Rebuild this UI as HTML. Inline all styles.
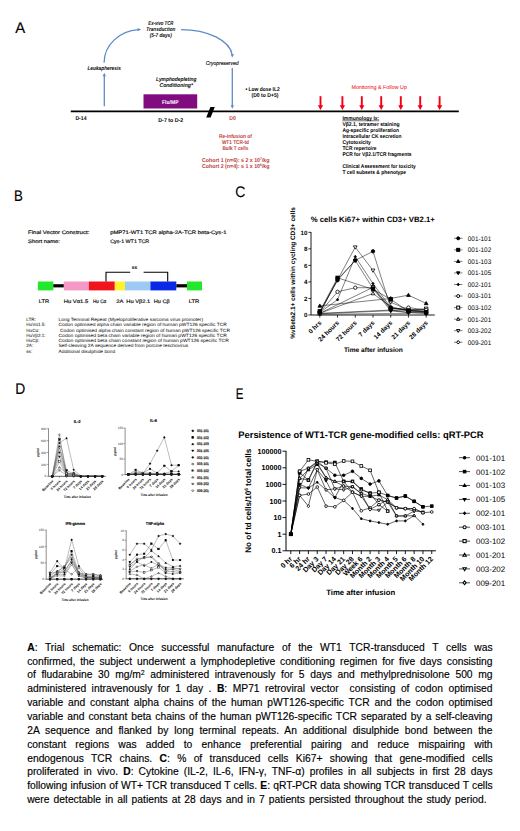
<!DOCTYPE html>
<html><head><meta charset="utf-8">
<style>
html,body{margin:0;padding:0;background:#fff;}
body{width:520px;height:831px;position:relative;overflow:hidden;font-family:"Liberation Sans", sans-serif;}
svg{position:absolute;left:0;top:0;}
svg text{font-family:"Liberation Sans", sans-serif;text-rendering:geometricPrecision;}
.cl{position:absolute;left:27.2px;transform:scaleY(1.09);transform-origin:0 10.5px;font-size:10.3px;line-height:13.85px;height:13.85px;text-align:justify;text-align-last:justify;color:#000;white-space:normal;-webkit-text-stroke:0.15px #000;}
.cl sup{font-size:0.62em;line-height:0;vertical-align:0.45em;}
.cl b{font-weight:bold;}
</style></head><body>
<svg width="520" height="831" viewBox="0 0 520 831">
<text x="0" y="0" font-size="15.4" stroke="#000" stroke-width="0.15" transform="translate(14.1,201.0) scale(0.86,1)">B</text>
<text x="28.0" y="234.3" font-size="5.0" fill="#111" textLength="61.4" lengthAdjust="spacingAndGlyphs" stroke="#111" stroke-width="0.18">Final Vector Construct:</text>
<text x="28.0" y="243.2" font-size="5.0" fill="#111" textLength="32" lengthAdjust="spacingAndGlyphs" stroke="#111" stroke-width="0.18">Short name:</text>
<text x="110.2" y="234.3" font-size="5.0" fill="#111" textLength="116.3" lengthAdjust="spacingAndGlyphs" stroke="#111" stroke-width="0.18">pMP71-WT1 TCR alpha-2A-TCR beta-Cys-1</text>
<text x="110.2" y="243.2" font-size="5.0" fill="#111" textLength="39" lengthAdjust="spacingAndGlyphs" stroke="#111" stroke-width="0.18">Cys-1 WT1 TCR</text>
<rect x="37.9" y="281.5" width="15.4" height="8.899999999999977" fill="#22E82C"/>
<rect x="53.3" y="284.2" width="10.6" height="3.2" fill="#000"/>
<rect x="63.8" y="281.5" width="25" height="8.899999999999977" fill="#F59AC6"/>
<rect x="88.8" y="281.5" width="26" height="8.899999999999977" fill="#F0141E"/>
<rect x="114.8" y="281.5" width="10.2" height="8.899999999999977" fill="#FFF22A"/>
<rect x="125" y="281.5" width="25.4" height="8.899999999999977" fill="#9CCAF4"/>
<rect x="150.4" y="281.5" width="25.9" height="8.899999999999977" fill="#0A28E6"/>
<rect x="176.3" y="284.2" width="10.7" height="3.2" fill="#000"/>
<rect x="187" y="281.5" width="15" height="8.899999999999977" fill="#22E82C"/>
<polyline points="106,281.5 106,272.2 130.2,272.2" fill="none" stroke="#000" stroke-width="1.1"/>
<polyline points="143.6,272.2 167.7,272.2 167.7,281.5" fill="none" stroke="#000" stroke-width="1.1"/>
<text x="134.6" y="268.6" font-size="5.0" font-weight="bold" text-anchor="middle" textLength="5.6" lengthAdjust="spacingAndGlyphs">ss</text>
<text x="44" y="302.6" font-size="5.0" text-anchor="middle" fill="#111" textLength="10.4" lengthAdjust="spacingAndGlyphs" stroke="#111" stroke-width="0.18">LTR</text>
<text x="76" y="302.6" font-size="5.0" text-anchor="middle" fill="#111" textLength="24.5" lengthAdjust="spacingAndGlyphs" stroke="#111" stroke-width="0.18">Hu Vα1.5</text>
<text x="99.6" y="302.6" font-size="5.0" text-anchor="middle" fill="#111" textLength="13.2" lengthAdjust="spacingAndGlyphs" stroke="#111" stroke-width="0.18">Hu Cα</text>
<text x="119.8" y="302.6" font-size="5.0" text-anchor="middle" fill="#111" textLength="7.3" lengthAdjust="spacingAndGlyphs" stroke="#111" stroke-width="0.18">2A</text>
<text x="138.3" y="302.6" font-size="5.0" text-anchor="middle" fill="#111" textLength="24" lengthAdjust="spacingAndGlyphs" stroke="#111" stroke-width="0.18">Hu Vβ2.1</text>
<text x="161.7" y="302.6" font-size="5.0" text-anchor="middle" fill="#111" textLength="15.8" lengthAdjust="spacingAndGlyphs" stroke="#111" stroke-width="0.18">Hu Cβ</text>
<text x="194" y="302.6" font-size="5.0" text-anchor="middle" fill="#111" textLength="10.6" lengthAdjust="spacingAndGlyphs" stroke="#111" stroke-width="0.18">LTR</text>
<text x="26.3" y="320.9" font-size="4.6">LTR:</text>
<text x="58.5" y="320.9" font-size="4.6" textLength="144.6" lengthAdjust="spacingAndGlyphs">Long Terminal Repeat (Myeloproliferative sarcoma virus promoter)</text>
<text x="26.3" y="326.2" font-size="4.6">HuVα1.5:</text>
<text x="58.5" y="326.2" font-size="4.6" textLength="168.4" lengthAdjust="spacingAndGlyphs">Codon optimised alpha chain variable region of human pWT126 specific TCR</text>
<text x="26.3" y="331.5" font-size="4.6">HuCα:</text>
<text x="60.0" y="331.5" font-size="4.6" textLength="170.0" lengthAdjust="spacingAndGlyphs">Codon optimised alpha chain constant region of human pWT126 specific TCR</text>
<text x="26.3" y="336.79999999999995" font-size="4.6">HuVβ2.1:</text>
<text x="58.5" y="336.79999999999995" font-size="4.6" textLength="168.4" lengthAdjust="spacingAndGlyphs">Codon optimised beta chain variable region of human pWT126 specific TCR</text>
<text x="26.3" y="342.09999999999997" font-size="4.6">HuCβ:</text>
<text x="58.5" y="342.09999999999997" font-size="4.6" textLength="170.3" lengthAdjust="spacingAndGlyphs">Codon optimised beta chain constant region of human pWT126 specific TCR</text>
<text x="26.3" y="347.4" font-size="4.6">2A:</text>
<text x="58.5" y="347.4" font-size="4.6" textLength="129.6" lengthAdjust="spacingAndGlyphs">Self-cleaving 2A sequence derived from porcine teschovirus</text>
<text x="26.3" y="352.7" font-size="4.6">ss:</text>
<text x="58.5" y="352.7" font-size="4.6" textLength="56.7" lengthAdjust="spacingAndGlyphs">Additional disulphide bond</text>
<text x="0" y="0" font-size="15.4" stroke="#000" stroke-width="0.15" transform="translate(235.35,197.0) scale(0.9,1)">C</text>
<text x="310.7" y="222.4" font-size="7.75" font-weight="bold" textLength="124.2" lengthAdjust="spacingAndGlyphs">% cells Ki67+ within CD3+ VB2.1+</text>
<text x="0" y="0" font-size="6.5" font-weight="bold" text-anchor="middle" transform="translate(294.6,273) rotate(-90)" textLength="131.7" lengthAdjust="spacingAndGlyphs">%vBeta2.1+ cells within cycling CD3+ cells</text>
<polyline points="319.80,313.76 426.18,309.21" fill="none" stroke="#000" stroke-width="0.45"/>
<polyline points="319.80,314.17 408.45,313.35" fill="none" stroke="#000" stroke-width="0.45"/>
<polyline points="319.80,313.35 390.72,310.04 408.45,312.52 426.18,313.35" fill="none" stroke="#000" stroke-width="0.5"/>
<polygon points="319.80,311.31 321.50,313.35 319.80,315.39 318.10,313.35" fill="#fff" stroke="#000" stroke-width="0.8"/>
<polygon points="390.72,308.00 392.42,310.04 390.72,312.08 389.02,310.04" fill="#fff" stroke="#000" stroke-width="0.8"/>
<polygon points="408.45,310.48 410.15,312.52 408.45,314.56 406.75,312.52" fill="#fff" stroke="#000" stroke-width="0.8"/>
<polygon points="426.18,311.31 427.88,313.35 426.18,315.39 424.48,313.35" fill="#fff" stroke="#000" stroke-width="0.8"/>
<polyline points="319.80,312.52 355.26,247.19 372.99,270.34 390.72,302.18 408.45,310.04 426.18,310.87" fill="none" stroke="#000" stroke-width="0.5"/>
<polygon points="319.80,314.47 321.67,311.24 317.93,311.24" fill="#fff" stroke="#000" stroke-width="0.8"/>
<polygon points="355.26,249.14 357.13,245.91 353.39,245.91" fill="#fff" stroke="#000" stroke-width="0.8"/>
<polygon points="372.99,272.30 374.86,269.07 371.12,269.07" fill="#fff" stroke="#000" stroke-width="0.8"/>
<polygon points="390.72,304.14 392.59,300.91 388.85,300.91" fill="#fff" stroke="#000" stroke-width="0.8"/>
<polygon points="408.45,311.99 410.32,308.76 406.58,308.76" fill="#fff" stroke="#000" stroke-width="0.8"/>
<polygon points="426.18,312.82 428.05,309.59 424.31,309.59" fill="#fff" stroke="#000" stroke-width="0.8"/>
<polyline points="319.80,313.35 372.99,293.50 390.72,306.73 408.45,310.87 426.18,311.69" fill="none" stroke="#000" stroke-width="0.5"/>
<polygon points="319.80,311.39 321.67,314.62 317.93,314.62" fill="#fff" stroke="#000" stroke-width="0.8"/>
<polygon points="372.99,291.54 374.86,294.77 371.12,294.77" fill="#fff" stroke="#000" stroke-width="0.8"/>
<polygon points="390.72,304.78 392.59,308.00 388.85,308.00" fill="#fff" stroke="#000" stroke-width="0.8"/>
<polygon points="408.45,308.91 410.32,312.14 406.58,312.14" fill="#fff" stroke="#000" stroke-width="0.8"/>
<polygon points="426.18,309.74 428.05,312.97 424.31,312.97" fill="#fff" stroke="#000" stroke-width="0.8"/>
<polyline points="319.80,313.35 372.99,287.30 390.72,308.38 408.45,310.04 426.18,308.80" fill="none" stroke="#000" stroke-width="0.5"/>
<rect x="318.10" y="311.65" width="3.40" height="3.40" fill="#fff" stroke="#000" stroke-width="0.8"/>
<rect x="371.29" y="285.60" width="3.40" height="3.40" fill="#fff" stroke="#000" stroke-width="0.8"/>
<rect x="389.02" y="306.68" width="3.40" height="3.40" fill="#fff" stroke="#000" stroke-width="0.8"/>
<rect x="406.75" y="308.34" width="3.40" height="3.40" fill="#fff" stroke="#000" stroke-width="0.8"/>
<rect x="424.48" y="307.10" width="3.40" height="3.40" fill="#fff" stroke="#000" stroke-width="0.8"/>
<polyline points="319.80,312.52 337.53,291.84 355.26,287.71 372.99,287.71 390.72,309.21 408.45,307.56 426.18,310.04" fill="none" stroke="#000" stroke-width="0.5"/>
<circle cx="319.80" cy="312.52" r="1.70" fill="#fff" stroke="#000" stroke-width="0.8"/>
<circle cx="337.53" cy="291.84" r="1.70" fill="#fff" stroke="#000" stroke-width="0.8"/>
<circle cx="355.26" cy="287.71" r="1.70" fill="#fff" stroke="#000" stroke-width="0.8"/>
<circle cx="372.99" cy="287.71" r="1.70" fill="#fff" stroke="#000" stroke-width="0.8"/>
<circle cx="390.72" cy="309.21" r="1.70" fill="#fff" stroke="#000" stroke-width="0.8"/>
<circle cx="408.45" cy="307.56" r="1.70" fill="#fff" stroke="#000" stroke-width="0.8"/>
<circle cx="426.18" cy="310.04" r="1.70" fill="#fff" stroke="#000" stroke-width="0.8"/>
<polyline points="319.80,312.52 337.53,299.70 355.26,256.70 372.99,283.57 390.72,307.56 408.45,310.04 426.18,311.69" fill="none" stroke="#000" stroke-width="0.5"/>
<polygon points="319.80,311.14 320.95,312.52 319.80,313.90 318.65,312.52" fill="#000" stroke="#000" stroke-width="0.8"/>
<polygon points="337.53,298.32 338.68,299.70 337.53,301.08 336.38,299.70" fill="#000" stroke="#000" stroke-width="0.8"/>
<polygon points="355.26,255.32 356.41,256.70 355.26,258.08 354.11,256.70" fill="#000" stroke="#000" stroke-width="0.8"/>
<polygon points="372.99,282.19 374.14,283.57 372.99,284.95 371.84,283.57" fill="#000" stroke="#000" stroke-width="0.8"/>
<polygon points="390.72,306.18 391.87,307.56 390.72,308.94 389.57,307.56" fill="#000" stroke="#000" stroke-width="0.8"/>
<polygon points="408.45,308.66 409.60,310.04 408.45,311.42 407.30,310.04" fill="#000" stroke="#000" stroke-width="0.8"/>
<polygon points="426.18,310.31 427.33,311.69 426.18,313.07 425.03,311.69" fill="#000" stroke="#000" stroke-width="0.8"/>
<polyline points="319.80,312.52 337.53,279.44 355.26,260.42 372.99,288.54 390.72,310.87 408.45,312.52 426.18,312.93" fill="none" stroke="#000" stroke-width="0.5"/>
<polygon points="319.80,314.47 321.67,311.24 317.93,311.24" fill="#000" stroke="#000" stroke-width="0.8"/>
<polygon points="337.53,281.39 339.40,278.16 335.66,278.16" fill="#000" stroke="#000" stroke-width="0.8"/>
<polygon points="355.26,262.37 357.13,259.14 353.39,259.14" fill="#000" stroke="#000" stroke-width="0.8"/>
<polygon points="372.99,290.49 374.86,287.26 371.12,287.26" fill="#000" stroke="#000" stroke-width="0.8"/>
<polygon points="390.72,312.82 392.59,309.59 388.85,309.59" fill="#000" stroke="#000" stroke-width="0.8"/>
<polygon points="408.45,314.47 410.32,311.24 406.58,311.24" fill="#000" stroke="#000" stroke-width="0.8"/>
<polygon points="426.18,314.89 428.05,311.66 424.31,311.66" fill="#000" stroke="#000" stroke-width="0.8"/>
<polyline points="319.80,305.90 390.72,298.46 408.45,295.15 426.18,303.42" fill="none" stroke="#000" stroke-width="0.5"/>
<polygon points="319.80,303.95 321.67,307.18 317.93,307.18" fill="#000" stroke="#000" stroke-width="0.8"/>
<polygon points="390.72,296.50 392.59,299.73 388.85,299.73" fill="#000" stroke="#000" stroke-width="0.8"/>
<polygon points="408.45,293.20 410.32,296.43 406.58,296.43" fill="#000" stroke="#000" stroke-width="0.8"/>
<polygon points="426.18,301.47 428.05,304.70 424.31,304.70" fill="#000" stroke="#000" stroke-width="0.8"/>
<polyline points="319.80,311.28 337.53,277.79 372.99,289.36 390.72,299.29 408.45,311.28 426.18,312.52" fill="none" stroke="#000" stroke-width="0.5"/>
<rect x="318.10" y="309.58" width="3.40" height="3.40" fill="#000" stroke="#000" stroke-width="0.8"/>
<rect x="335.83" y="276.09" width="3.40" height="3.40" fill="#000" stroke="#000" stroke-width="0.8"/>
<rect x="371.29" y="287.66" width="3.40" height="3.40" fill="#000" stroke="#000" stroke-width="0.8"/>
<rect x="389.02" y="297.59" width="3.40" height="3.40" fill="#000" stroke="#000" stroke-width="0.8"/>
<rect x="406.75" y="309.58" width="3.40" height="3.40" fill="#000" stroke="#000" stroke-width="0.8"/>
<rect x="424.48" y="310.82" width="3.40" height="3.40" fill="#000" stroke="#000" stroke-width="0.8"/>
<polyline points="319.80,312.52 337.53,280.27 355.26,260.42 372.99,251.32 390.72,307.97 408.45,310.45 426.18,312.11" fill="none" stroke="#000" stroke-width="0.5"/>
<circle cx="319.80" cy="312.52" r="1.70" fill="#000" stroke="#000" stroke-width="0.8"/>
<circle cx="337.53" cy="280.27" r="1.70" fill="#000" stroke="#000" stroke-width="0.8"/>
<circle cx="355.26" cy="260.42" r="1.70" fill="#000" stroke="#000" stroke-width="0.8"/>
<circle cx="372.99" cy="251.32" r="1.70" fill="#000" stroke="#000" stroke-width="0.8"/>
<circle cx="390.72" cy="307.97" r="1.70" fill="#000" stroke="#000" stroke-width="0.8"/>
<circle cx="408.45" cy="310.45" r="1.70" fill="#000" stroke="#000" stroke-width="0.8"/>
<circle cx="426.18" cy="312.11" r="1.70" fill="#000" stroke="#000" stroke-width="0.8"/>
<line x1="311.0" y1="232.0" x2="311.0" y2="315.0" stroke="#000" stroke-width="0.9"/>
<line x1="311.0" y1="315.0" x2="434.8" y2="315.0" stroke="#000" stroke-width="0.9"/>
<line x1="308.4" y1="315.00" x2="311.0" y2="315.00" stroke="#000" stroke-width="0.8"/>
<text x="307.4" y="317.2" font-size="6.2" font-weight="bold" text-anchor="end">0</text>
<line x1="308.4" y1="298.46" x2="311.0" y2="298.46" stroke="#000" stroke-width="0.8"/>
<text x="307.4" y="300.65999999999997" font-size="6.2" font-weight="bold" text-anchor="end">2</text>
<line x1="308.4" y1="281.92" x2="311.0" y2="281.92" stroke="#000" stroke-width="0.8"/>
<text x="307.4" y="284.12" font-size="6.2" font-weight="bold" text-anchor="end">4</text>
<line x1="308.4" y1="265.38" x2="311.0" y2="265.38" stroke="#000" stroke-width="0.8"/>
<text x="307.4" y="267.58" font-size="6.2" font-weight="bold" text-anchor="end">6</text>
<line x1="308.4" y1="248.84" x2="311.0" y2="248.84" stroke="#000" stroke-width="0.8"/>
<text x="307.4" y="251.04" font-size="6.2" font-weight="bold" text-anchor="end">8</text>
<line x1="308.4" y1="232.30" x2="311.0" y2="232.30" stroke="#000" stroke-width="0.8"/>
<text x="307.4" y="234.5" font-size="6.2" font-weight="bold" text-anchor="end">10</text>
<line x1="319.80" y1="315.0" x2="319.80" y2="317.6" stroke="#000" stroke-width="0.8"/>
<line x1="337.53" y1="315.0" x2="337.53" y2="317.6" stroke="#000" stroke-width="0.8"/>
<line x1="355.26" y1="315.0" x2="355.26" y2="317.6" stroke="#000" stroke-width="0.8"/>
<line x1="372.99" y1="315.0" x2="372.99" y2="317.6" stroke="#000" stroke-width="0.8"/>
<line x1="390.72" y1="315.0" x2="390.72" y2="317.6" stroke="#000" stroke-width="0.8"/>
<line x1="408.45" y1="315.0" x2="408.45" y2="317.6" stroke="#000" stroke-width="0.8"/>
<line x1="426.18" y1="315.0" x2="426.18" y2="317.6" stroke="#000" stroke-width="0.8"/>
<text x="0" y="0" font-size="6.4" font-weight="bold" text-anchor="end" fill="#000" transform="translate(321.90,323.20) rotate(-45)">0 hrs</text>
<text x="0" y="0" font-size="6.4" font-weight="bold" text-anchor="end" fill="#000" transform="translate(339.63,323.20) rotate(-45)">24 hours</text>
<text x="0" y="0" font-size="6.4" font-weight="bold" text-anchor="end" fill="#000" transform="translate(357.36,323.20) rotate(-45)">72 hours</text>
<text x="0" y="0" font-size="6.4" font-weight="bold" text-anchor="end" fill="#000" transform="translate(375.09,323.20) rotate(-45)">7 days</text>
<text x="0" y="0" font-size="6.4" font-weight="bold" text-anchor="end" fill="#000" transform="translate(392.82,323.20) rotate(-45)">14 days</text>
<text x="0" y="0" font-size="6.4" font-weight="bold" text-anchor="end" fill="#000" transform="translate(410.55,323.20) rotate(-45)">21 days</text>
<text x="0" y="0" font-size="6.4" font-weight="bold" text-anchor="end" fill="#000" transform="translate(428.28,323.20) rotate(-45)">28 days</text>
<text x="343.9" y="352.0" font-size="6.6" font-weight="bold" textLength="59" lengthAdjust="spacingAndGlyphs">Time after infusion</text>
<line x1="454" y1="238.30" x2="462.5" y2="238.30" stroke="#000" stroke-width="0.5"/>
<circle cx="458.20" cy="238.30" r="1.50" fill="#000" stroke="#000" stroke-width="1.0"/>
<text x="467.8" y="240.70000000000002" font-size="6.7" textLength="23.4" lengthAdjust="spacingAndGlyphs">001-101</text>
<line x1="454" y1="249.85" x2="462.5" y2="249.85" stroke="#000" stroke-width="0.5"/>
<rect x="456.70" y="248.35" width="3.00" height="3.00" fill="#000" stroke="#000" stroke-width="1.0"/>
<text x="467.8" y="252.25000000000003" font-size="6.7" textLength="23.4" lengthAdjust="spacingAndGlyphs">001-102</text>
<line x1="454" y1="261.40" x2="462.5" y2="261.40" stroke="#000" stroke-width="0.5"/>
<polygon points="458.20,259.68 459.85,262.53 456.55,262.53" fill="#000" stroke="#000" stroke-width="1.0"/>
<text x="467.8" y="263.8" font-size="6.7" textLength="23.4" lengthAdjust="spacingAndGlyphs">001-103</text>
<line x1="454" y1="272.95" x2="462.5" y2="272.95" stroke="#000" stroke-width="0.5"/>
<polygon points="458.20,274.68 459.85,271.83 456.55,271.83" fill="#000" stroke="#000" stroke-width="1.0"/>
<text x="467.8" y="275.35" font-size="6.7" textLength="23.4" lengthAdjust="spacingAndGlyphs">001-105</text>
<line x1="454" y1="284.50" x2="462.5" y2="284.50" stroke="#000" stroke-width="0.5"/>
<polygon points="458.20,283.18 459.30,284.50 458.20,285.82 457.10,284.50" fill="#000" stroke="#000" stroke-width="1.0"/>
<text x="467.8" y="286.9" font-size="6.7" textLength="23.4" lengthAdjust="spacingAndGlyphs">002-101</text>
<line x1="454" y1="296.05" x2="462.5" y2="296.05" stroke="#000" stroke-width="0.5"/>
<circle cx="458.20" cy="296.05" r="1.50" fill="#fff" stroke="#000" stroke-width="1.0"/>
<text x="467.8" y="298.45" font-size="6.7" textLength="23.4" lengthAdjust="spacingAndGlyphs">003-101</text>
<line x1="454" y1="307.60" x2="462.5" y2="307.60" stroke="#000" stroke-width="0.5"/>
<rect x="456.70" y="306.10" width="3.00" height="3.00" fill="#fff" stroke="#000" stroke-width="1.0"/>
<text x="467.8" y="310.0" font-size="6.7" textLength="23.4" lengthAdjust="spacingAndGlyphs">003-102</text>
<line x1="454" y1="319.15" x2="462.5" y2="319.15" stroke="#000" stroke-width="0.5"/>
<polygon points="458.20,317.43 459.85,320.28 456.55,320.28" fill="#fff" stroke="#000" stroke-width="1.0"/>
<text x="467.8" y="321.55" font-size="6.7" textLength="23.4" lengthAdjust="spacingAndGlyphs">001-201</text>
<line x1="454" y1="330.70" x2="462.5" y2="330.70" stroke="#000" stroke-width="0.5"/>
<polygon points="458.20,332.43 459.85,329.58 456.55,329.58" fill="#fff" stroke="#000" stroke-width="1.0"/>
<text x="467.8" y="333.1" font-size="6.7" textLength="23.4" lengthAdjust="spacingAndGlyphs">003-202</text>
<line x1="454" y1="342.25" x2="462.5" y2="342.25" stroke="#000" stroke-width="0.5"/>
<polygon points="458.20,340.45 459.70,342.25 458.20,344.05 456.70,342.25" fill="#fff" stroke="#000" stroke-width="1.0"/>
<text x="467.8" y="344.65" font-size="6.7" textLength="23.4" lengthAdjust="spacingAndGlyphs">009-201</text>
<text x="0" y="0" font-size="15.4" stroke="#000" stroke-width="0.15" transform="translate(15.3,394.0) scale(0.9,1)">D</text>
<text x="77.2" y="423.0" font-size="4.3" font-weight="bold" text-anchor="middle" textLength="6.8" lengthAdjust="spacingAndGlyphs" stroke="#000" stroke-width="0.12">IL-2</text>
<polyline points="52.30,476.30 59.43,446.55 66.56,472.73 73.69,475.11 80.82,476.30 87.95,476.30 95.08,476.30 102.21,476.30" fill="none" stroke="#555" stroke-width="0.4"/>
<circle cx="52.30" cy="476.30" r="0.80" fill="#000" stroke="#000" stroke-width="0.45"/>
<circle cx="59.43" cy="446.55" r="0.80" fill="#000" stroke="#000" stroke-width="0.45"/>
<circle cx="66.56" cy="472.73" r="0.80" fill="#000" stroke="#000" stroke-width="0.45"/>
<circle cx="73.69" cy="475.11" r="0.80" fill="#000" stroke="#000" stroke-width="0.45"/>
<circle cx="80.82" cy="476.30" r="0.80" fill="#000" stroke="#000" stroke-width="0.45"/>
<circle cx="87.95" cy="476.30" r="0.80" fill="#000" stroke="#000" stroke-width="0.45"/>
<circle cx="95.08" cy="476.30" r="0.80" fill="#000" stroke="#000" stroke-width="0.45"/>
<circle cx="102.21" cy="476.30" r="0.80" fill="#000" stroke="#000" stroke-width="0.45"/>
<polyline points="52.30,476.30 59.43,439.41 66.56,470.35 73.69,473.92 80.82,476.30 87.95,476.30 95.08,476.30 102.21,476.30" fill="none" stroke="#555" stroke-width="0.4"/>
<rect x="51.50" y="475.50" width="1.60" height="1.60" fill="#000" stroke="#000" stroke-width="0.45"/>
<rect x="58.63" y="438.61" width="1.60" height="1.60" fill="#000" stroke="#000" stroke-width="0.45"/>
<rect x="65.76" y="469.55" width="1.60" height="1.60" fill="#000" stroke="#000" stroke-width="0.45"/>
<rect x="72.89" y="473.12" width="1.60" height="1.60" fill="#000" stroke="#000" stroke-width="0.45"/>
<rect x="80.02" y="475.50" width="1.60" height="1.60" fill="#000" stroke="#000" stroke-width="0.45"/>
<rect x="87.15" y="475.50" width="1.60" height="1.60" fill="#000" stroke="#000" stroke-width="0.45"/>
<rect x="94.28" y="475.50" width="1.60" height="1.60" fill="#000" stroke="#000" stroke-width="0.45"/>
<rect x="101.41" y="475.50" width="1.60" height="1.60" fill="#000" stroke="#000" stroke-width="0.45"/>
<polyline points="52.30,476.30 59.43,452.50 66.56,474.51 73.69,472.73 80.82,476.30 87.95,476.30 95.08,476.30 102.21,476.30" fill="none" stroke="#555" stroke-width="0.4"/>
<polygon points="52.30,475.38 53.18,476.90 51.42,476.90" fill="#000" stroke="#000" stroke-width="0.45"/>
<polygon points="59.43,451.58 60.31,453.10 58.55,453.10" fill="#000" stroke="#000" stroke-width="0.45"/>
<polygon points="66.56,473.59 67.44,475.12 65.68,475.12" fill="#000" stroke="#000" stroke-width="0.45"/>
<polygon points="73.69,471.81 74.57,473.33 72.81,473.33" fill="#000" stroke="#000" stroke-width="0.45"/>
<polygon points="80.82,475.38 81.70,476.90 79.94,476.90" fill="#000" stroke="#000" stroke-width="0.45"/>
<polygon points="87.95,475.38 88.83,476.90 87.07,476.90" fill="#000" stroke="#000" stroke-width="0.45"/>
<polygon points="95.08,475.38 95.96,476.90 94.20,476.90" fill="#000" stroke="#000" stroke-width="0.45"/>
<polygon points="102.21,475.38 103.09,476.90 101.33,476.90" fill="#000" stroke="#000" stroke-width="0.45"/>
<polyline points="52.30,476.30 59.43,456.67 66.56,475.11 73.69,475.11 80.82,476.30 87.95,476.30 95.08,476.30 102.21,476.30" fill="none" stroke="#555" stroke-width="0.4"/>
<polygon points="52.30,477.22 53.18,475.70 51.42,475.70" fill="#000" stroke="#000" stroke-width="0.45"/>
<polygon points="59.43,457.59 60.31,456.06 58.55,456.06" fill="#000" stroke="#000" stroke-width="0.45"/>
<polygon points="66.56,476.03 67.44,474.51 65.68,474.51" fill="#000" stroke="#000" stroke-width="0.45"/>
<polygon points="73.69,476.03 74.57,474.51 72.81,474.51" fill="#000" stroke="#000" stroke-width="0.45"/>
<polygon points="80.82,477.22 81.70,475.70 79.94,475.70" fill="#000" stroke="#000" stroke-width="0.45"/>
<polygon points="87.95,477.22 88.83,475.70 87.07,475.70" fill="#000" stroke="#000" stroke-width="0.45"/>
<polygon points="95.08,477.22 95.96,475.70 94.20,475.70" fill="#000" stroke="#000" stroke-width="0.45"/>
<polygon points="102.21,477.22 103.09,475.70 101.33,475.70" fill="#000" stroke="#000" stroke-width="0.45"/>
<polyline points="52.30,476.30 59.43,442.98 66.56,438.22 73.69,469.75 80.82,476.00 87.95,476.30 95.08,476.30 102.21,476.30" fill="none" stroke="#555" stroke-width="0.4"/>
<polygon points="52.30,475.34 53.10,476.30 52.30,477.26 51.50,476.30" fill="#000" stroke="#000" stroke-width="0.45"/>
<polygon points="59.43,442.02 60.23,442.98 59.43,443.94 58.63,442.98" fill="#000" stroke="#000" stroke-width="0.45"/>
<polygon points="66.56,437.26 67.36,438.22 66.56,439.18 65.76,438.22" fill="#000" stroke="#000" stroke-width="0.45"/>
<polygon points="73.69,468.80 74.49,469.75 73.69,470.71 72.89,469.75" fill="#000" stroke="#000" stroke-width="0.45"/>
<polygon points="80.82,475.04 81.62,476.00 80.82,476.96 80.02,476.00" fill="#000" stroke="#000" stroke-width="0.45"/>
<polygon points="87.95,475.34 88.75,476.30 87.95,477.26 87.15,476.30" fill="#000" stroke="#000" stroke-width="0.45"/>
<polygon points="95.08,475.34 95.88,476.30 95.08,477.26 94.28,476.30" fill="#000" stroke="#000" stroke-width="0.45"/>
<polygon points="102.21,475.34 103.01,476.30 102.21,477.26 101.41,476.30" fill="#000" stroke="#000" stroke-width="0.45"/>
<polyline points="52.30,476.30 59.43,434.65 66.56,475.70 73.69,475.70 80.82,476.30 87.95,476.30 95.08,476.30 102.21,476.30" fill="none" stroke="#555" stroke-width="0.4"/>
<circle cx="52.30" cy="476.30" r="0.80" fill="#fff" stroke="#000" stroke-width="0.45"/>
<circle cx="59.43" cy="434.65" r="0.80" fill="#fff" stroke="#000" stroke-width="0.45"/>
<circle cx="66.56" cy="475.70" r="0.80" fill="#fff" stroke="#000" stroke-width="0.45"/>
<circle cx="73.69" cy="475.70" r="0.80" fill="#fff" stroke="#000" stroke-width="0.45"/>
<circle cx="80.82" cy="476.30" r="0.80" fill="#fff" stroke="#000" stroke-width="0.45"/>
<circle cx="87.95" cy="476.30" r="0.80" fill="#fff" stroke="#000" stroke-width="0.45"/>
<circle cx="95.08" cy="476.30" r="0.80" fill="#fff" stroke="#000" stroke-width="0.45"/>
<circle cx="102.21" cy="476.30" r="0.80" fill="#fff" stroke="#000" stroke-width="0.45"/>
<polyline points="52.30,476.30 59.43,461.43 66.56,476.00 73.69,476.00 80.82,476.30 87.95,476.30 95.08,476.30 102.21,476.30" fill="none" stroke="#555" stroke-width="0.4"/>
<rect x="51.50" y="475.50" width="1.60" height="1.60" fill="#fff" stroke="#000" stroke-width="0.45"/>
<rect x="58.63" y="460.62" width="1.60" height="1.60" fill="#fff" stroke="#000" stroke-width="0.45"/>
<rect x="65.76" y="475.20" width="1.60" height="1.60" fill="#fff" stroke="#000" stroke-width="0.45"/>
<rect x="72.89" y="475.20" width="1.60" height="1.60" fill="#fff" stroke="#000" stroke-width="0.45"/>
<rect x="80.02" y="475.50" width="1.60" height="1.60" fill="#fff" stroke="#000" stroke-width="0.45"/>
<rect x="87.15" y="475.50" width="1.60" height="1.60" fill="#fff" stroke="#000" stroke-width="0.45"/>
<rect x="94.28" y="475.50" width="1.60" height="1.60" fill="#fff" stroke="#000" stroke-width="0.45"/>
<rect x="101.41" y="475.50" width="1.60" height="1.60" fill="#fff" stroke="#000" stroke-width="0.45"/>
<polyline points="52.30,476.30 59.43,467.38 66.56,472.73 73.69,474.51 80.82,476.30 87.95,476.30 95.08,476.30 102.21,476.30" fill="none" stroke="#555" stroke-width="0.4"/>
<polygon points="52.30,475.38 53.18,476.90 51.42,476.90" fill="#fff" stroke="#000" stroke-width="0.45"/>
<polygon points="59.43,466.45 60.31,467.98 58.55,467.98" fill="#fff" stroke="#000" stroke-width="0.45"/>
<polygon points="66.56,471.81 67.44,473.33 65.68,473.33" fill="#fff" stroke="#000" stroke-width="0.45"/>
<polygon points="73.69,473.59 74.57,475.12 72.81,475.12" fill="#fff" stroke="#000" stroke-width="0.45"/>
<polygon points="80.82,475.38 81.70,476.90 79.94,476.90" fill="#fff" stroke="#000" stroke-width="0.45"/>
<polygon points="87.95,475.38 88.83,476.90 87.07,476.90" fill="#fff" stroke="#000" stroke-width="0.45"/>
<polygon points="95.08,475.38 95.96,476.90 94.20,476.90" fill="#fff" stroke="#000" stroke-width="0.45"/>
<polygon points="102.21,475.38 103.09,476.90 101.33,476.90" fill="#fff" stroke="#000" stroke-width="0.45"/>
<polyline points="52.30,476.30 59.43,470.35 66.56,475.11 73.69,473.32 80.82,476.30 87.95,476.30 95.08,476.30 102.21,476.30" fill="none" stroke="#555" stroke-width="0.4"/>
<polygon points="52.30,477.22 53.18,475.70 51.42,475.70" fill="#fff" stroke="#000" stroke-width="0.45"/>
<polygon points="59.43,471.27 60.31,469.75 58.55,469.75" fill="#fff" stroke="#000" stroke-width="0.45"/>
<polygon points="66.56,476.03 67.44,474.51 65.68,474.51" fill="#fff" stroke="#000" stroke-width="0.45"/>
<polygon points="73.69,474.25 74.57,472.72 72.81,472.72" fill="#fff" stroke="#000" stroke-width="0.45"/>
<polygon points="80.82,477.22 81.70,475.70 79.94,475.70" fill="#fff" stroke="#000" stroke-width="0.45"/>
<polygon points="87.95,477.22 88.83,475.70 87.07,475.70" fill="#fff" stroke="#000" stroke-width="0.45"/>
<polygon points="95.08,477.22 95.96,475.70 94.20,475.70" fill="#fff" stroke="#000" stroke-width="0.45"/>
<polygon points="102.21,477.22 103.09,475.70 101.33,475.70" fill="#fff" stroke="#000" stroke-width="0.45"/>
<polyline points="52.30,476.30 59.43,447.74 66.56,473.32 73.69,475.70 80.82,476.30 87.95,476.30 95.08,476.30 102.21,476.30" fill="none" stroke="#555" stroke-width="0.4"/>
<polygon points="52.30,475.34 53.10,476.30 52.30,477.26 51.50,476.30" fill="#fff" stroke="#000" stroke-width="0.45"/>
<polygon points="59.43,446.78 60.23,447.74 59.43,448.70 58.63,447.74" fill="#fff" stroke="#000" stroke-width="0.45"/>
<polygon points="66.56,472.37 67.36,473.32 66.56,474.28 65.76,473.32" fill="#fff" stroke="#000" stroke-width="0.45"/>
<polygon points="73.69,474.75 74.49,475.70 73.69,476.66 72.89,475.70" fill="#fff" stroke="#000" stroke-width="0.45"/>
<polygon points="80.82,475.34 81.62,476.30 80.82,477.26 80.02,476.30" fill="#fff" stroke="#000" stroke-width="0.45"/>
<polygon points="87.95,475.34 88.75,476.30 87.95,477.26 87.15,476.30" fill="#fff" stroke="#000" stroke-width="0.45"/>
<polygon points="95.08,475.34 95.88,476.30 95.08,477.26 94.28,476.30" fill="#fff" stroke="#000" stroke-width="0.45"/>
<polygon points="102.21,475.34 103.01,476.30 102.21,477.26 101.41,476.30" fill="#fff" stroke="#000" stroke-width="0.45"/>
<circle cx="52.30" cy="476.30" r="1.15" fill="#000"/>
<circle cx="80.82" cy="476.30" r="1.15" fill="#000"/>
<circle cx="87.95" cy="476.30" r="1.15" fill="#000"/>
<circle cx="95.08" cy="476.30" r="1.15" fill="#000"/>
<circle cx="102.21" cy="476.30" r="1.15" fill="#000"/>
<line x1="48.5" y1="428.4" x2="48.5" y2="476.3" stroke="#444" stroke-width="0.6"/>
<line x1="48.5" y1="476.3" x2="105.8" y2="476.3" stroke="#222" stroke-width="0.7"/>
<line x1="47.0" y1="476.30" x2="48.5" y2="476.30" stroke="#444" stroke-width="0.5"/>
<text x="46.4" y="477.40000000000003" font-size="3.2" text-anchor="end" fill="#333">0</text>
<line x1="47.0" y1="464.40" x2="48.5" y2="464.40" stroke="#444" stroke-width="0.5"/>
<text x="46.4" y="465.5" font-size="3.2" text-anchor="end" fill="#333">200</text>
<line x1="47.0" y1="452.50" x2="48.5" y2="452.50" stroke="#444" stroke-width="0.5"/>
<text x="46.4" y="453.6" font-size="3.2" text-anchor="end" fill="#333">400</text>
<line x1="47.0" y1="440.60" x2="48.5" y2="440.60" stroke="#444" stroke-width="0.5"/>
<text x="46.4" y="441.70000000000005" font-size="3.2" text-anchor="end" fill="#333">600</text>
<line x1="47.0" y1="428.70" x2="48.5" y2="428.70" stroke="#444" stroke-width="0.5"/>
<text x="46.4" y="429.8" font-size="3.2" text-anchor="end" fill="#333">800</text>
<line x1="52.30" y1="476.3" x2="52.30" y2="477.8" stroke="#333" stroke-width="0.5"/>
<line x1="59.43" y1="476.3" x2="59.43" y2="477.8" stroke="#333" stroke-width="0.5"/>
<line x1="66.56" y1="476.3" x2="66.56" y2="477.8" stroke="#333" stroke-width="0.5"/>
<line x1="73.69" y1="476.3" x2="73.69" y2="477.8" stroke="#333" stroke-width="0.5"/>
<line x1="80.82" y1="476.3" x2="80.82" y2="477.8" stroke="#333" stroke-width="0.5"/>
<line x1="87.95" y1="476.3" x2="87.95" y2="477.8" stroke="#333" stroke-width="0.5"/>
<line x1="95.08" y1="476.3" x2="95.08" y2="477.8" stroke="#333" stroke-width="0.5"/>
<line x1="102.21" y1="476.3" x2="102.21" y2="477.8" stroke="#333" stroke-width="0.5"/>
<text x="0" y="0" font-size="3.5" font-weight="bold" text-anchor="end" fill="#000" transform="translate(53.70,481.30) rotate(-45)">Baseline</text>
<text x="0" y="0" font-size="3.5" font-weight="bold" text-anchor="end" fill="#000" transform="translate(60.83,481.30) rotate(-45)">6 hours</text>
<text x="0" y="0" font-size="3.5" font-weight="bold" text-anchor="end" fill="#000" transform="translate(67.96,481.30) rotate(-45)">24 hours</text>
<text x="0" y="0" font-size="3.5" font-weight="bold" text-anchor="end" fill="#000" transform="translate(75.09,481.30) rotate(-45)">72 hours</text>
<text x="0" y="0" font-size="3.5" font-weight="bold" text-anchor="end" fill="#000" transform="translate(82.22,481.30) rotate(-45)">7 days</text>
<text x="0" y="0" font-size="3.5" font-weight="bold" text-anchor="end" fill="#000" transform="translate(89.35,481.30) rotate(-45)">14 days</text>
<text x="0" y="0" font-size="3.5" font-weight="bold" text-anchor="end" fill="#000" transform="translate(96.48,481.30) rotate(-45)">21 days</text>
<text x="0" y="0" font-size="3.5" font-weight="bold" text-anchor="end" fill="#000" transform="translate(103.61,481.30) rotate(-45)">28 days</text>
<text x="0" y="0" font-size="3.3" font-weight="bold" text-anchor="middle" fill="#111" transform="translate(39.20,452.50) rotate(-90)">pg/ml</text>
<text x="77.3" y="497.5" font-size="3.4" font-weight="bold" text-anchor="middle" textLength="27" lengthAdjust="spacingAndGlyphs">Time after infusion</text>
<text x="153.5" y="422.2" font-size="4.3" font-weight="bold" text-anchor="middle" textLength="6.9" lengthAdjust="spacingAndGlyphs" stroke="#000" stroke-width="0.12">IL-6</text>
<polyline points="128.50,474.50 135.67,474.50 142.84,473.88 150.01,463.67 157.18,450.68 164.35,437.38 171.52,465.22 178.69,465.22" fill="none" stroke="#555" stroke-width="0.4"/>
<circle cx="128.50" cy="474.50" r="0.80" fill="#000" stroke="#000" stroke-width="0.45"/>
<circle cx="135.67" cy="474.50" r="0.80" fill="#000" stroke="#000" stroke-width="0.45"/>
<circle cx="142.84" cy="473.88" r="0.80" fill="#000" stroke="#000" stroke-width="0.45"/>
<circle cx="150.01" cy="463.67" r="0.80" fill="#000" stroke="#000" stroke-width="0.45"/>
<circle cx="157.18" cy="450.68" r="0.80" fill="#000" stroke="#000" stroke-width="0.45"/>
<circle cx="164.35" cy="437.38" r="0.80" fill="#000" stroke="#000" stroke-width="0.45"/>
<circle cx="171.52" cy="465.22" r="0.80" fill="#000" stroke="#000" stroke-width="0.45"/>
<circle cx="178.69" cy="465.22" r="0.80" fill="#000" stroke="#000" stroke-width="0.45"/>
<polyline points="128.50,474.50 135.67,469.86 142.84,472.95 150.01,468.93 157.18,472.95 164.35,465.84 171.52,471.41 178.69,465.22" fill="none" stroke="#555" stroke-width="0.4"/>
<rect x="127.70" y="473.70" width="1.60" height="1.60" fill="#000" stroke="#000" stroke-width="0.45"/>
<rect x="134.87" y="469.06" width="1.60" height="1.60" fill="#000" stroke="#000" stroke-width="0.45"/>
<rect x="142.04" y="472.15" width="1.60" height="1.60" fill="#000" stroke="#000" stroke-width="0.45"/>
<rect x="149.21" y="468.13" width="1.60" height="1.60" fill="#000" stroke="#000" stroke-width="0.45"/>
<rect x="156.38" y="472.15" width="1.60" height="1.60" fill="#000" stroke="#000" stroke-width="0.45"/>
<rect x="163.55" y="465.04" width="1.60" height="1.60" fill="#000" stroke="#000" stroke-width="0.45"/>
<rect x="170.72" y="470.61" width="1.60" height="1.60" fill="#000" stroke="#000" stroke-width="0.45"/>
<rect x="177.89" y="464.42" width="1.60" height="1.60" fill="#000" stroke="#000" stroke-width="0.45"/>
<polyline points="128.50,474.50 135.67,472.95 142.84,473.57 150.01,472.95 157.18,473.57 164.35,473.57 171.52,471.41 178.69,471.41" fill="none" stroke="#555" stroke-width="0.4"/>
<polygon points="128.50,473.58 129.38,475.10 127.62,475.10" fill="#000" stroke="#000" stroke-width="0.45"/>
<polygon points="135.67,472.03 136.55,473.55 134.79,473.55" fill="#000" stroke="#000" stroke-width="0.45"/>
<polygon points="142.84,472.65 143.72,474.17 141.96,474.17" fill="#000" stroke="#000" stroke-width="0.45"/>
<polygon points="150.01,472.03 150.89,473.55 149.13,473.55" fill="#000" stroke="#000" stroke-width="0.45"/>
<polygon points="157.18,472.65 158.06,474.17 156.30,474.17" fill="#000" stroke="#000" stroke-width="0.45"/>
<polygon points="164.35,472.65 165.23,474.17 163.47,474.17" fill="#000" stroke="#000" stroke-width="0.45"/>
<polygon points="171.52,470.49 172.40,472.01 170.64,472.01" fill="#000" stroke="#000" stroke-width="0.45"/>
<polygon points="178.69,470.49 179.57,472.01 177.81,472.01" fill="#000" stroke="#000" stroke-width="0.45"/>
<polyline points="128.50,474.50 135.67,473.88 142.84,473.88 150.01,473.88 157.18,473.88 164.35,473.88 171.52,473.88 178.69,473.88" fill="none" stroke="#555" stroke-width="0.4"/>
<polygon points="128.50,475.42 129.38,473.90 127.62,473.90" fill="#000" stroke="#000" stroke-width="0.45"/>
<polygon points="135.67,474.80 136.55,473.28 134.79,473.28" fill="#000" stroke="#000" stroke-width="0.45"/>
<polygon points="142.84,474.80 143.72,473.28 141.96,473.28" fill="#000" stroke="#000" stroke-width="0.45"/>
<polygon points="150.01,474.80 150.89,473.28 149.13,473.28" fill="#000" stroke="#000" stroke-width="0.45"/>
<polygon points="157.18,474.80 158.06,473.28 156.30,473.28" fill="#000" stroke="#000" stroke-width="0.45"/>
<polygon points="164.35,474.80 165.23,473.28 163.47,473.28" fill="#000" stroke="#000" stroke-width="0.45"/>
<polygon points="171.52,474.80 172.40,473.28 170.64,473.28" fill="#000" stroke="#000" stroke-width="0.45"/>
<polygon points="178.69,474.80 179.57,473.28 177.81,473.28" fill="#000" stroke="#000" stroke-width="0.45"/>
<polyline points="128.50,474.50 135.67,474.50 142.84,474.50 150.01,474.50 157.18,474.50 164.35,474.50 171.52,474.50 178.69,474.50" fill="none" stroke="#555" stroke-width="0.4"/>
<polygon points="128.50,473.54 129.30,474.50 128.50,475.46 127.70,474.50" fill="#000" stroke="#000" stroke-width="0.45"/>
<polygon points="135.67,473.54 136.47,474.50 135.67,475.46 134.87,474.50" fill="#000" stroke="#000" stroke-width="0.45"/>
<polygon points="142.84,473.54 143.64,474.50 142.84,475.46 142.04,474.50" fill="#000" stroke="#000" stroke-width="0.45"/>
<polygon points="150.01,473.54 150.81,474.50 150.01,475.46 149.21,474.50" fill="#000" stroke="#000" stroke-width="0.45"/>
<polygon points="157.18,473.54 157.98,474.50 157.18,475.46 156.38,474.50" fill="#000" stroke="#000" stroke-width="0.45"/>
<polygon points="164.35,473.54 165.15,474.50 164.35,475.46 163.55,474.50" fill="#000" stroke="#000" stroke-width="0.45"/>
<polygon points="171.52,473.54 172.32,474.50 171.52,475.46 170.72,474.50" fill="#000" stroke="#000" stroke-width="0.45"/>
<polygon points="178.69,473.54 179.49,474.50 178.69,475.46 177.89,474.50" fill="#000" stroke="#000" stroke-width="0.45"/>
<polyline points="128.50,474.50 135.67,473.57 142.84,474.50 150.01,474.19 157.18,474.50 164.35,474.50 171.52,474.50 178.69,474.50" fill="none" stroke="#555" stroke-width="0.4"/>
<circle cx="128.50" cy="474.50" r="0.80" fill="#fff" stroke="#000" stroke-width="0.45"/>
<circle cx="135.67" cy="473.57" r="0.80" fill="#fff" stroke="#000" stroke-width="0.45"/>
<circle cx="142.84" cy="474.50" r="0.80" fill="#fff" stroke="#000" stroke-width="0.45"/>
<circle cx="150.01" cy="474.19" r="0.80" fill="#fff" stroke="#000" stroke-width="0.45"/>
<circle cx="157.18" cy="474.50" r="0.80" fill="#fff" stroke="#000" stroke-width="0.45"/>
<circle cx="164.35" cy="474.50" r="0.80" fill="#fff" stroke="#000" stroke-width="0.45"/>
<circle cx="171.52" cy="474.50" r="0.80" fill="#fff" stroke="#000" stroke-width="0.45"/>
<circle cx="178.69" cy="474.50" r="0.80" fill="#fff" stroke="#000" stroke-width="0.45"/>
<polyline points="128.50,474.50 135.67,474.19 142.84,474.19 150.01,474.19 157.18,474.19 164.35,474.19 171.52,474.19 178.69,474.19" fill="none" stroke="#555" stroke-width="0.4"/>
<rect x="127.70" y="473.70" width="1.60" height="1.60" fill="#fff" stroke="#000" stroke-width="0.45"/>
<rect x="134.87" y="473.39" width="1.60" height="1.60" fill="#fff" stroke="#000" stroke-width="0.45"/>
<rect x="142.04" y="473.39" width="1.60" height="1.60" fill="#fff" stroke="#000" stroke-width="0.45"/>
<rect x="149.21" y="473.39" width="1.60" height="1.60" fill="#fff" stroke="#000" stroke-width="0.45"/>
<rect x="156.38" y="473.39" width="1.60" height="1.60" fill="#fff" stroke="#000" stroke-width="0.45"/>
<rect x="163.55" y="473.39" width="1.60" height="1.60" fill="#fff" stroke="#000" stroke-width="0.45"/>
<rect x="170.72" y="473.39" width="1.60" height="1.60" fill="#fff" stroke="#000" stroke-width="0.45"/>
<rect x="177.89" y="473.39" width="1.60" height="1.60" fill="#fff" stroke="#000" stroke-width="0.45"/>
<polyline points="128.50,474.50 135.67,474.50 142.84,474.50 150.01,474.50 157.18,474.50 164.35,474.50 171.52,474.50 178.69,474.50" fill="none" stroke="#555" stroke-width="0.4"/>
<polygon points="128.50,473.58 129.38,475.10 127.62,475.10" fill="#fff" stroke="#000" stroke-width="0.45"/>
<polygon points="135.67,473.58 136.55,475.10 134.79,475.10" fill="#fff" stroke="#000" stroke-width="0.45"/>
<polygon points="142.84,473.58 143.72,475.10 141.96,475.10" fill="#fff" stroke="#000" stroke-width="0.45"/>
<polygon points="150.01,473.58 150.89,475.10 149.13,475.10" fill="#fff" stroke="#000" stroke-width="0.45"/>
<polygon points="157.18,473.58 158.06,475.10 156.30,475.10" fill="#fff" stroke="#000" stroke-width="0.45"/>
<polygon points="164.35,473.58 165.23,475.10 163.47,475.10" fill="#fff" stroke="#000" stroke-width="0.45"/>
<polygon points="171.52,473.58 172.40,475.10 170.64,475.10" fill="#fff" stroke="#000" stroke-width="0.45"/>
<polygon points="178.69,473.58 179.57,475.10 177.81,475.10" fill="#fff" stroke="#000" stroke-width="0.45"/>
<polyline points="128.50,474.50 135.67,472.03 142.84,472.95 150.01,473.57 157.18,473.88 164.35,474.50 171.52,474.50 178.69,474.50" fill="none" stroke="#555" stroke-width="0.4"/>
<polygon points="128.50,475.42 129.38,473.90 127.62,473.90" fill="#fff" stroke="#000" stroke-width="0.45"/>
<polygon points="135.67,472.95 136.55,471.43 134.79,471.43" fill="#fff" stroke="#000" stroke-width="0.45"/>
<polygon points="142.84,473.87 143.72,472.35 141.96,472.35" fill="#fff" stroke="#000" stroke-width="0.45"/>
<polygon points="150.01,474.49 150.89,472.97 149.13,472.97" fill="#fff" stroke="#000" stroke-width="0.45"/>
<polygon points="157.18,474.80 158.06,473.28 156.30,473.28" fill="#fff" stroke="#000" stroke-width="0.45"/>
<polygon points="164.35,475.42 165.23,473.90 163.47,473.90" fill="#fff" stroke="#000" stroke-width="0.45"/>
<polygon points="171.52,475.42 172.40,473.90 170.64,473.90" fill="#fff" stroke="#000" stroke-width="0.45"/>
<polygon points="178.69,475.42 179.57,473.90 177.81,473.90" fill="#fff" stroke="#000" stroke-width="0.45"/>
<polyline points="128.50,474.50 135.67,474.50 142.84,474.50 150.01,474.50 157.18,474.50 164.35,474.50 171.52,474.50 178.69,474.50" fill="none" stroke="#555" stroke-width="0.4"/>
<polygon points="128.50,473.54 129.30,474.50 128.50,475.46 127.70,474.50" fill="#fff" stroke="#000" stroke-width="0.45"/>
<polygon points="135.67,473.54 136.47,474.50 135.67,475.46 134.87,474.50" fill="#fff" stroke="#000" stroke-width="0.45"/>
<polygon points="142.84,473.54 143.64,474.50 142.84,475.46 142.04,474.50" fill="#fff" stroke="#000" stroke-width="0.45"/>
<polygon points="150.01,473.54 150.81,474.50 150.01,475.46 149.21,474.50" fill="#fff" stroke="#000" stroke-width="0.45"/>
<polygon points="157.18,473.54 157.98,474.50 157.18,475.46 156.38,474.50" fill="#fff" stroke="#000" stroke-width="0.45"/>
<polygon points="164.35,473.54 165.15,474.50 164.35,475.46 163.55,474.50" fill="#fff" stroke="#000" stroke-width="0.45"/>
<polygon points="171.52,473.54 172.32,474.50 171.52,475.46 170.72,474.50" fill="#fff" stroke="#000" stroke-width="0.45"/>
<polygon points="178.69,473.54 179.49,474.50 178.69,475.46 177.89,474.50" fill="#fff" stroke="#000" stroke-width="0.45"/>
<circle cx="128.50" cy="474.50" r="1.15" fill="#000"/>
<circle cx="135.67" cy="474.50" r="1.15" fill="#000"/>
<circle cx="142.84" cy="474.50" r="1.15" fill="#000"/>
<circle cx="150.01" cy="474.50" r="1.15" fill="#000"/>
<circle cx="157.18" cy="474.50" r="1.15" fill="#000"/>
<circle cx="164.35" cy="474.50" r="1.15" fill="#000"/>
<circle cx="171.52" cy="474.50" r="1.15" fill="#000"/>
<circle cx="178.69" cy="474.50" r="1.15" fill="#000"/>
<line x1="125.1" y1="427.8" x2="125.1" y2="474.5" stroke="#444" stroke-width="0.6"/>
<line x1="125.1" y1="474.5" x2="181.0" y2="474.5" stroke="#222" stroke-width="0.7"/>
<line x1="123.6" y1="474.50" x2="125.1" y2="474.50" stroke="#444" stroke-width="0.5"/>
<text x="123.0" y="475.6" font-size="3.2" text-anchor="end" fill="#333">0</text>
<line x1="123.6" y1="459.03" x2="125.1" y2="459.03" stroke="#444" stroke-width="0.5"/>
<text x="123.0" y="460.1333333333334" font-size="3.2" text-anchor="end" fill="#333">50</text>
<line x1="123.6" y1="443.57" x2="125.1" y2="443.57" stroke="#444" stroke-width="0.5"/>
<text x="123.0" y="444.6666666666667" font-size="3.2" text-anchor="end" fill="#333">100</text>
<line x1="123.6" y1="428.10" x2="125.1" y2="428.10" stroke="#444" stroke-width="0.5"/>
<text x="123.0" y="429.20000000000005" font-size="3.2" text-anchor="end" fill="#333">150</text>
<line x1="128.50" y1="474.5" x2="128.50" y2="476.0" stroke="#333" stroke-width="0.5"/>
<line x1="135.67" y1="474.5" x2="135.67" y2="476.0" stroke="#333" stroke-width="0.5"/>
<line x1="142.84" y1="474.5" x2="142.84" y2="476.0" stroke="#333" stroke-width="0.5"/>
<line x1="150.01" y1="474.5" x2="150.01" y2="476.0" stroke="#333" stroke-width="0.5"/>
<line x1="157.18" y1="474.5" x2="157.18" y2="476.0" stroke="#333" stroke-width="0.5"/>
<line x1="164.35" y1="474.5" x2="164.35" y2="476.0" stroke="#333" stroke-width="0.5"/>
<line x1="171.52" y1="474.5" x2="171.52" y2="476.0" stroke="#333" stroke-width="0.5"/>
<line x1="178.69" y1="474.5" x2="178.69" y2="476.0" stroke="#333" stroke-width="0.5"/>
<text x="0" y="0" font-size="3.5" font-weight="bold" text-anchor="end" fill="#000" transform="translate(129.90,479.50) rotate(-45)">Baseline</text>
<text x="0" y="0" font-size="3.5" font-weight="bold" text-anchor="end" fill="#000" transform="translate(137.07,479.50) rotate(-45)">6 hours</text>
<text x="0" y="0" font-size="3.5" font-weight="bold" text-anchor="end" fill="#000" transform="translate(144.24,479.50) rotate(-45)">24 hours</text>
<text x="0" y="0" font-size="3.5" font-weight="bold" text-anchor="end" fill="#000" transform="translate(151.41,479.50) rotate(-45)">72 hours</text>
<text x="0" y="0" font-size="3.5" font-weight="bold" text-anchor="end" fill="#000" transform="translate(158.58,479.50) rotate(-45)">7 days</text>
<text x="0" y="0" font-size="3.5" font-weight="bold" text-anchor="end" fill="#000" transform="translate(165.75,479.50) rotate(-45)">14 days</text>
<text x="0" y="0" font-size="3.5" font-weight="bold" text-anchor="end" fill="#000" transform="translate(172.92,479.50) rotate(-45)">21 days</text>
<text x="0" y="0" font-size="3.5" font-weight="bold" text-anchor="end" fill="#000" transform="translate(180.09,479.50) rotate(-45)">28 days</text>
<text x="0" y="0" font-size="3.3" font-weight="bold" text-anchor="middle" fill="#111" transform="translate(115.80,451.30) rotate(-90)">pg/ml</text>
<text x="154.0" y="495.6" font-size="3.4" font-weight="bold" text-anchor="middle" textLength="27" lengthAdjust="spacingAndGlyphs">Time after infusion</text>
<text x="75.2" y="524.6" font-size="4.3" font-weight="bold" text-anchor="middle" textLength="19.6" lengthAdjust="spacingAndGlyphs" stroke="#000" stroke-width="0.12">IFN-gamma</text>
<polyline points="50.00,572.64 57.21,561.16 64.42,569.36 71.63,539.84 78.84,566.08 86.05,574.28 93.26,574.28 100.47,575.26" fill="none" stroke="#555" stroke-width="0.4"/>
<circle cx="50.00" cy="572.64" r="0.80" fill="#000" stroke="#000" stroke-width="0.45"/>
<circle cx="57.21" cy="561.16" r="0.80" fill="#000" stroke="#000" stroke-width="0.45"/>
<circle cx="64.42" cy="569.36" r="0.80" fill="#000" stroke="#000" stroke-width="0.45"/>
<circle cx="71.63" cy="539.84" r="0.80" fill="#000" stroke="#000" stroke-width="0.45"/>
<circle cx="78.84" cy="566.08" r="0.80" fill="#000" stroke="#000" stroke-width="0.45"/>
<circle cx="86.05" cy="574.28" r="0.80" fill="#000" stroke="#000" stroke-width="0.45"/>
<circle cx="93.26" cy="574.28" r="0.80" fill="#000" stroke="#000" stroke-width="0.45"/>
<circle cx="100.47" cy="575.26" r="0.80" fill="#000" stroke="#000" stroke-width="0.45"/>
<polyline points="50.00,574.28 57.21,566.08 64.42,567.72 71.63,551.32 78.84,572.64 86.05,575.92 93.26,575.92 100.47,576.58" fill="none" stroke="#555" stroke-width="0.4"/>
<rect x="49.20" y="573.48" width="1.60" height="1.60" fill="#000" stroke="#000" stroke-width="0.45"/>
<rect x="56.41" y="565.28" width="1.60" height="1.60" fill="#000" stroke="#000" stroke-width="0.45"/>
<rect x="63.62" y="566.92" width="1.60" height="1.60" fill="#000" stroke="#000" stroke-width="0.45"/>
<rect x="70.83" y="550.52" width="1.60" height="1.60" fill="#000" stroke="#000" stroke-width="0.45"/>
<rect x="78.04" y="571.84" width="1.60" height="1.60" fill="#000" stroke="#000" stroke-width="0.45"/>
<rect x="85.25" y="575.12" width="1.60" height="1.60" fill="#000" stroke="#000" stroke-width="0.45"/>
<rect x="92.46" y="575.12" width="1.60" height="1.60" fill="#000" stroke="#000" stroke-width="0.45"/>
<rect x="99.67" y="575.78" width="1.60" height="1.60" fill="#000" stroke="#000" stroke-width="0.45"/>
<polyline points="50.00,575.92 57.21,571.00 64.42,567.72 71.63,554.60 78.84,574.28 86.05,576.58 93.26,576.58 100.47,577.56" fill="none" stroke="#555" stroke-width="0.4"/>
<polygon points="50.00,575.00 50.88,576.52 49.12,576.52" fill="#000" stroke="#000" stroke-width="0.45"/>
<polygon points="57.21,570.08 58.09,571.60 56.33,571.60" fill="#000" stroke="#000" stroke-width="0.45"/>
<polygon points="64.42,566.80 65.30,568.32 63.54,568.32" fill="#000" stroke="#000" stroke-width="0.45"/>
<polygon points="71.63,553.68 72.51,555.20 70.75,555.20" fill="#000" stroke="#000" stroke-width="0.45"/>
<polygon points="78.84,573.36 79.72,574.88 77.96,574.88" fill="#000" stroke="#000" stroke-width="0.45"/>
<polygon points="86.05,575.66 86.93,577.18 85.17,577.18" fill="#000" stroke="#000" stroke-width="0.45"/>
<polygon points="93.26,575.66 94.14,577.18 92.38,577.18" fill="#000" stroke="#000" stroke-width="0.45"/>
<polygon points="100.47,576.64 101.35,578.16 99.59,578.16" fill="#000" stroke="#000" stroke-width="0.45"/>
<polyline points="50.00,577.56 57.21,572.64 64.42,572.64 71.63,559.52 78.84,574.28 86.05,577.56 93.26,577.56 100.47,577.56" fill="none" stroke="#555" stroke-width="0.4"/>
<polygon points="50.00,578.48 50.88,576.96 49.12,576.96" fill="#000" stroke="#000" stroke-width="0.45"/>
<polygon points="57.21,573.56 58.09,572.04 56.33,572.04" fill="#000" stroke="#000" stroke-width="0.45"/>
<polygon points="64.42,573.56 65.30,572.04 63.54,572.04" fill="#000" stroke="#000" stroke-width="0.45"/>
<polygon points="71.63,560.44 72.51,558.92 70.75,558.92" fill="#000" stroke="#000" stroke-width="0.45"/>
<polygon points="78.84,575.20 79.72,573.68 77.96,573.68" fill="#000" stroke="#000" stroke-width="0.45"/>
<polygon points="86.05,578.48 86.93,576.96 85.17,576.96" fill="#000" stroke="#000" stroke-width="0.45"/>
<polygon points="93.26,578.48 94.14,576.96 92.38,576.96" fill="#000" stroke="#000" stroke-width="0.45"/>
<polygon points="100.47,578.48 101.35,576.96 99.59,576.96" fill="#000" stroke="#000" stroke-width="0.45"/>
<polyline points="50.00,579.20 57.21,574.28 64.42,574.28 71.63,562.80 78.84,575.92 86.05,577.56 93.26,577.56 100.47,578.22" fill="none" stroke="#555" stroke-width="0.4"/>
<polygon points="50.00,578.24 50.80,579.20 50.00,580.16 49.20,579.20" fill="#000" stroke="#000" stroke-width="0.45"/>
<polygon points="57.21,573.32 58.01,574.28 57.21,575.24 56.41,574.28" fill="#000" stroke="#000" stroke-width="0.45"/>
<polygon points="64.42,573.32 65.22,574.28 64.42,575.24 63.62,574.28" fill="#000" stroke="#000" stroke-width="0.45"/>
<polygon points="71.63,561.84 72.43,562.80 71.63,563.76 70.83,562.80" fill="#000" stroke="#000" stroke-width="0.45"/>
<polygon points="78.84,574.96 79.64,575.92 78.84,576.88 78.04,575.92" fill="#000" stroke="#000" stroke-width="0.45"/>
<polygon points="86.05,576.60 86.85,577.56 86.05,578.52 85.25,577.56" fill="#000" stroke="#000" stroke-width="0.45"/>
<polygon points="93.26,576.60 94.06,577.56 93.26,578.52 92.46,577.56" fill="#000" stroke="#000" stroke-width="0.45"/>
<polygon points="100.47,577.26 101.27,578.22 100.47,579.18 99.67,578.22" fill="#000" stroke="#000" stroke-width="0.45"/>
<polyline points="50.00,579.20 57.21,572.64 64.42,569.36 71.63,574.28 78.84,567.72 86.05,577.56 93.26,578.22 100.47,578.54" fill="none" stroke="#555" stroke-width="0.4"/>
<circle cx="50.00" cy="579.20" r="0.80" fill="#fff" stroke="#000" stroke-width="0.45"/>
<circle cx="57.21" cy="572.64" r="0.80" fill="#fff" stroke="#000" stroke-width="0.45"/>
<circle cx="64.42" cy="569.36" r="0.80" fill="#fff" stroke="#000" stroke-width="0.45"/>
<circle cx="71.63" cy="574.28" r="0.80" fill="#fff" stroke="#000" stroke-width="0.45"/>
<circle cx="78.84" cy="567.72" r="0.80" fill="#fff" stroke="#000" stroke-width="0.45"/>
<circle cx="86.05" cy="577.56" r="0.80" fill="#fff" stroke="#000" stroke-width="0.45"/>
<circle cx="93.26" cy="578.22" r="0.80" fill="#fff" stroke="#000" stroke-width="0.45"/>
<circle cx="100.47" cy="578.54" r="0.80" fill="#fff" stroke="#000" stroke-width="0.45"/>
<polyline points="50.00,579.20 57.21,579.20 64.42,579.20 71.63,579.20 78.84,579.20 86.05,579.20 93.26,579.20 100.47,579.20" fill="none" stroke="#555" stroke-width="0.4"/>
<rect x="49.20" y="578.40" width="1.60" height="1.60" fill="#fff" stroke="#000" stroke-width="0.45"/>
<rect x="56.41" y="578.40" width="1.60" height="1.60" fill="#fff" stroke="#000" stroke-width="0.45"/>
<rect x="63.62" y="578.40" width="1.60" height="1.60" fill="#fff" stroke="#000" stroke-width="0.45"/>
<rect x="70.83" y="578.40" width="1.60" height="1.60" fill="#fff" stroke="#000" stroke-width="0.45"/>
<rect x="78.04" y="578.40" width="1.60" height="1.60" fill="#fff" stroke="#000" stroke-width="0.45"/>
<rect x="85.25" y="578.40" width="1.60" height="1.60" fill="#fff" stroke="#000" stroke-width="0.45"/>
<rect x="92.46" y="578.40" width="1.60" height="1.60" fill="#fff" stroke="#000" stroke-width="0.45"/>
<rect x="99.67" y="578.40" width="1.60" height="1.60" fill="#fff" stroke="#000" stroke-width="0.45"/>
<polyline points="50.00,578.54 57.21,573.30 64.42,571.00 71.63,561.16 78.84,573.30 86.05,576.58 93.26,577.56 100.47,577.89" fill="none" stroke="#555" stroke-width="0.4"/>
<polygon points="50.00,577.62 50.88,579.14 49.12,579.14" fill="#fff" stroke="#000" stroke-width="0.45"/>
<polygon points="57.21,572.38 58.09,573.90 56.33,573.90" fill="#fff" stroke="#000" stroke-width="0.45"/>
<polygon points="64.42,570.08 65.30,571.60 63.54,571.60" fill="#fff" stroke="#000" stroke-width="0.45"/>
<polygon points="71.63,560.24 72.51,561.76 70.75,561.76" fill="#fff" stroke="#000" stroke-width="0.45"/>
<polygon points="78.84,572.38 79.72,573.90 77.96,573.90" fill="#fff" stroke="#000" stroke-width="0.45"/>
<polygon points="86.05,575.66 86.93,577.18 85.17,577.18" fill="#fff" stroke="#000" stroke-width="0.45"/>
<polygon points="93.26,576.64 94.14,578.16 92.38,578.16" fill="#fff" stroke="#000" stroke-width="0.45"/>
<polygon points="100.47,576.97 101.35,578.49 99.59,578.49" fill="#fff" stroke="#000" stroke-width="0.45"/>
<polyline points="50.00,573.30 57.21,571.98 64.42,566.08 71.63,557.88 78.84,572.64 86.05,574.28 93.26,574.28 100.47,575.92" fill="none" stroke="#555" stroke-width="0.4"/>
<polygon points="50.00,574.22 50.88,572.70 49.12,572.70" fill="#fff" stroke="#000" stroke-width="0.45"/>
<polygon points="57.21,572.90 58.09,571.38 56.33,571.38" fill="#fff" stroke="#000" stroke-width="0.45"/>
<polygon points="64.42,567.00 65.30,565.48 63.54,565.48" fill="#fff" stroke="#000" stroke-width="0.45"/>
<polygon points="71.63,558.80 72.51,557.28 70.75,557.28" fill="#fff" stroke="#000" stroke-width="0.45"/>
<polygon points="78.84,573.56 79.72,572.04 77.96,572.04" fill="#fff" stroke="#000" stroke-width="0.45"/>
<polygon points="86.05,575.20 86.93,573.68 85.17,573.68" fill="#fff" stroke="#000" stroke-width="0.45"/>
<polygon points="93.26,575.20 94.14,573.68 92.38,573.68" fill="#fff" stroke="#000" stroke-width="0.45"/>
<polygon points="100.47,576.84 101.35,575.32 99.59,575.32" fill="#fff" stroke="#000" stroke-width="0.45"/>
<polyline points="50.00,577.56 57.21,575.92 64.42,575.92 71.63,564.44 78.84,575.92 86.05,578.22 93.26,578.22 100.47,578.22" fill="none" stroke="#555" stroke-width="0.4"/>
<polygon points="50.00,576.60 50.80,577.56 50.00,578.52 49.20,577.56" fill="#fff" stroke="#000" stroke-width="0.45"/>
<polygon points="57.21,574.96 58.01,575.92 57.21,576.88 56.41,575.92" fill="#fff" stroke="#000" stroke-width="0.45"/>
<polygon points="64.42,574.96 65.22,575.92 64.42,576.88 63.62,575.92" fill="#fff" stroke="#000" stroke-width="0.45"/>
<polygon points="71.63,563.48 72.43,564.44 71.63,565.40 70.83,564.44" fill="#fff" stroke="#000" stroke-width="0.45"/>
<polygon points="78.84,574.96 79.64,575.92 78.84,576.88 78.04,575.92" fill="#fff" stroke="#000" stroke-width="0.45"/>
<polygon points="86.05,577.26 86.85,578.22 86.05,579.18 85.25,578.22" fill="#fff" stroke="#000" stroke-width="0.45"/>
<polygon points="93.26,577.26 94.06,578.22 93.26,579.18 92.46,578.22" fill="#fff" stroke="#000" stroke-width="0.45"/>
<polygon points="100.47,577.26 101.27,578.22 100.47,579.18 99.67,578.22" fill="#fff" stroke="#000" stroke-width="0.45"/>
<circle cx="50.00" cy="579.20" r="1.15" fill="#000"/>
<circle cx="57.21" cy="579.20" r="1.15" fill="#000"/>
<circle cx="64.42" cy="579.20" r="1.15" fill="#000"/>
<circle cx="71.63" cy="579.20" r="1.15" fill="#000"/>
<circle cx="78.84" cy="579.20" r="1.15" fill="#000"/>
<circle cx="86.05" cy="579.20" r="1.15" fill="#000"/>
<circle cx="93.26" cy="579.20" r="1.15" fill="#000"/>
<circle cx="100.47" cy="579.20" r="1.15" fill="#000"/>
<line x1="46.2" y1="529.7" x2="46.2" y2="579.2" stroke="#444" stroke-width="0.6"/>
<line x1="46.2" y1="579.2" x2="103.0" y2="579.2" stroke="#222" stroke-width="0.7"/>
<line x1="44.7" y1="579.20" x2="46.2" y2="579.20" stroke="#444" stroke-width="0.5"/>
<text x="44.1" y="580.3000000000001" font-size="3.2" text-anchor="end" fill="#333">0</text>
<line x1="44.7" y1="562.80" x2="46.2" y2="562.80" stroke="#444" stroke-width="0.5"/>
<text x="44.1" y="563.9000000000001" font-size="3.2" text-anchor="end" fill="#333">50</text>
<line x1="44.7" y1="546.40" x2="46.2" y2="546.40" stroke="#444" stroke-width="0.5"/>
<text x="44.1" y="547.5" font-size="3.2" text-anchor="end" fill="#333">100</text>
<line x1="44.7" y1="530.00" x2="46.2" y2="530.00" stroke="#444" stroke-width="0.5"/>
<text x="44.1" y="531.1" font-size="3.2" text-anchor="end" fill="#333">150</text>
<line x1="50.00" y1="579.2" x2="50.00" y2="580.7" stroke="#333" stroke-width="0.5"/>
<line x1="57.21" y1="579.2" x2="57.21" y2="580.7" stroke="#333" stroke-width="0.5"/>
<line x1="64.42" y1="579.2" x2="64.42" y2="580.7" stroke="#333" stroke-width="0.5"/>
<line x1="71.63" y1="579.2" x2="71.63" y2="580.7" stroke="#333" stroke-width="0.5"/>
<line x1="78.84" y1="579.2" x2="78.84" y2="580.7" stroke="#333" stroke-width="0.5"/>
<line x1="86.05" y1="579.2" x2="86.05" y2="580.7" stroke="#333" stroke-width="0.5"/>
<line x1="93.26" y1="579.2" x2="93.26" y2="580.7" stroke="#333" stroke-width="0.5"/>
<line x1="100.47" y1="579.2" x2="100.47" y2="580.7" stroke="#333" stroke-width="0.5"/>
<text x="0" y="0" font-size="3.5" font-weight="bold" text-anchor="end" fill="#000" transform="translate(51.40,584.20) rotate(-45)">Baseline</text>
<text x="0" y="0" font-size="3.5" font-weight="bold" text-anchor="end" fill="#000" transform="translate(58.61,584.20) rotate(-45)">6 hours</text>
<text x="0" y="0" font-size="3.5" font-weight="bold" text-anchor="end" fill="#000" transform="translate(65.82,584.20) rotate(-45)">24 hours</text>
<text x="0" y="0" font-size="3.5" font-weight="bold" text-anchor="end" fill="#000" transform="translate(73.03,584.20) rotate(-45)">72 hours</text>
<text x="0" y="0" font-size="3.5" font-weight="bold" text-anchor="end" fill="#000" transform="translate(80.24,584.20) rotate(-45)">7 days</text>
<text x="0" y="0" font-size="3.5" font-weight="bold" text-anchor="end" fill="#000" transform="translate(87.45,584.20) rotate(-45)">14 days</text>
<text x="0" y="0" font-size="3.5" font-weight="bold" text-anchor="end" fill="#000" transform="translate(94.66,584.20) rotate(-45)">21 days</text>
<text x="0" y="0" font-size="3.5" font-weight="bold" text-anchor="end" fill="#000" transform="translate(101.87,584.20) rotate(-45)">28 days</text>
<text x="0" y="0" font-size="3.3" font-weight="bold" text-anchor="middle" fill="#111" transform="translate(36.90,554.60) rotate(-90)">pg/ml</text>
<text x="75.0" y="600.5" font-size="3.4" font-weight="bold" text-anchor="middle" textLength="27" lengthAdjust="spacingAndGlyphs">Time after infusion</text>
<text x="155.0" y="524.6" font-size="4.3" font-weight="bold" text-anchor="middle" textLength="18.3" lengthAdjust="spacingAndGlyphs" stroke="#000" stroke-width="0.12">TNF-alpha</text>
<polyline points="129.80,554.75 136.99,543.69 144.18,543.69 151.37,549.94 158.56,535.99 165.75,534.07 172.94,535.99 180.13,543.69" fill="none" stroke="#555" stroke-width="0.4"/>
<circle cx="129.80" cy="554.75" r="0.80" fill="#000" stroke="#000" stroke-width="0.45"/>
<circle cx="136.99" cy="543.69" r="0.80" fill="#000" stroke="#000" stroke-width="0.45"/>
<circle cx="144.18" cy="543.69" r="0.80" fill="#000" stroke="#000" stroke-width="0.45"/>
<circle cx="151.37" cy="549.94" r="0.80" fill="#000" stroke="#000" stroke-width="0.45"/>
<circle cx="158.56" cy="535.99" r="0.80" fill="#000" stroke="#000" stroke-width="0.45"/>
<circle cx="165.75" cy="534.07" r="0.80" fill="#000" stroke="#000" stroke-width="0.45"/>
<circle cx="172.94" cy="535.99" r="0.80" fill="#000" stroke="#000" stroke-width="0.45"/>
<circle cx="180.13" cy="543.69" r="0.80" fill="#000" stroke="#000" stroke-width="0.45"/>
<polyline points="129.80,561.97 136.99,554.75 144.18,553.79 151.37,543.69 158.56,548.98 165.75,540.32 172.94,560.04 180.13,560.04" fill="none" stroke="#555" stroke-width="0.4"/>
<rect x="129.00" y="561.17" width="1.60" height="1.60" fill="#000" stroke="#000" stroke-width="0.45"/>
<rect x="136.19" y="553.95" width="1.60" height="1.60" fill="#000" stroke="#000" stroke-width="0.45"/>
<rect x="143.38" y="552.99" width="1.60" height="1.60" fill="#000" stroke="#000" stroke-width="0.45"/>
<rect x="150.57" y="542.89" width="1.60" height="1.60" fill="#000" stroke="#000" stroke-width="0.45"/>
<rect x="157.76" y="548.18" width="1.60" height="1.60" fill="#000" stroke="#000" stroke-width="0.45"/>
<rect x="164.95" y="539.52" width="1.60" height="1.60" fill="#000" stroke="#000" stroke-width="0.45"/>
<rect x="172.14" y="559.24" width="1.60" height="1.60" fill="#000" stroke="#000" stroke-width="0.45"/>
<rect x="179.33" y="559.24" width="1.60" height="1.60" fill="#000" stroke="#000" stroke-width="0.45"/>
<polyline points="129.80,564.37 136.99,559.56 144.18,557.64 151.37,550.90 158.56,556.19 165.75,562.93 172.94,566.77 180.13,565.81" fill="none" stroke="#555" stroke-width="0.4"/>
<polygon points="129.80,563.45 130.68,564.97 128.92,564.97" fill="#000" stroke="#000" stroke-width="0.45"/>
<polygon points="136.99,558.64 137.87,560.16 136.11,560.16" fill="#000" stroke="#000" stroke-width="0.45"/>
<polygon points="144.18,556.72 145.06,558.24 143.30,558.24" fill="#000" stroke="#000" stroke-width="0.45"/>
<polygon points="151.37,549.98 152.25,551.50 150.49,551.50" fill="#000" stroke="#000" stroke-width="0.45"/>
<polygon points="158.56,555.27 159.44,556.79 157.68,556.79" fill="#000" stroke="#000" stroke-width="0.45"/>
<polygon points="165.75,562.01 166.63,563.53 164.87,563.53" fill="#000" stroke="#000" stroke-width="0.45"/>
<polygon points="172.94,565.86 173.82,567.38 172.06,567.38" fill="#000" stroke="#000" stroke-width="0.45"/>
<polygon points="180.13,564.89 181.01,566.41 179.25,566.41" fill="#000" stroke="#000" stroke-width="0.45"/>
<polyline points="129.80,566.77 136.99,561.48 144.18,557.15 151.37,557.15 158.56,564.37 165.75,567.74 172.94,567.74 180.13,569.18" fill="none" stroke="#555" stroke-width="0.4"/>
<polygon points="129.80,567.69 130.68,566.17 128.92,566.17" fill="#000" stroke="#000" stroke-width="0.45"/>
<polygon points="136.99,562.40 137.87,560.88 136.11,560.88" fill="#000" stroke="#000" stroke-width="0.45"/>
<polygon points="144.18,558.07 145.06,556.55 143.30,556.55" fill="#000" stroke="#000" stroke-width="0.45"/>
<polygon points="151.37,558.07 152.25,556.55 150.49,556.55" fill="#000" stroke="#000" stroke-width="0.45"/>
<polygon points="158.56,565.29 159.44,563.77 157.68,563.77" fill="#000" stroke="#000" stroke-width="0.45"/>
<polygon points="165.75,568.66 166.63,567.14 164.87,567.14" fill="#000" stroke="#000" stroke-width="0.45"/>
<polygon points="172.94,568.66 173.82,567.14 172.06,567.14" fill="#000" stroke="#000" stroke-width="0.45"/>
<polygon points="180.13,570.10 181.01,568.58 179.25,568.58" fill="#000" stroke="#000" stroke-width="0.45"/>
<polyline points="129.80,569.18 136.99,561.97 144.18,565.81 151.37,561.97 158.56,565.33 165.75,569.18 172.94,569.18 180.13,571.58" fill="none" stroke="#555" stroke-width="0.4"/>
<polygon points="129.80,568.22 130.60,569.18 129.80,570.14 129.00,569.18" fill="#000" stroke="#000" stroke-width="0.45"/>
<polygon points="136.99,561.00 137.79,561.97 136.99,562.93 136.19,561.97" fill="#000" stroke="#000" stroke-width="0.45"/>
<polygon points="144.18,564.85 144.98,565.81 144.18,566.77 143.38,565.81" fill="#000" stroke="#000" stroke-width="0.45"/>
<polygon points="151.37,561.00 152.17,561.97 151.37,562.93 150.57,561.97" fill="#000" stroke="#000" stroke-width="0.45"/>
<polygon points="158.56,564.37 159.36,565.33 158.56,566.29 157.76,565.33" fill="#000" stroke="#000" stroke-width="0.45"/>
<polygon points="165.75,568.22 166.55,569.18 165.75,570.14 164.95,569.18" fill="#000" stroke="#000" stroke-width="0.45"/>
<polygon points="172.94,568.22 173.74,569.18 172.94,570.14 172.14,569.18" fill="#000" stroke="#000" stroke-width="0.45"/>
<polygon points="180.13,570.62 180.93,571.58 180.13,572.54 179.33,571.58" fill="#000" stroke="#000" stroke-width="0.45"/>
<polyline points="129.80,571.10 136.99,566.77 144.18,564.85 151.37,568.22 158.56,564.37 165.75,571.58 172.94,571.58 180.13,572.55" fill="none" stroke="#555" stroke-width="0.4"/>
<circle cx="129.80" cy="571.10" r="0.80" fill="#fff" stroke="#000" stroke-width="0.45"/>
<circle cx="136.99" cy="566.77" r="0.80" fill="#fff" stroke="#000" stroke-width="0.45"/>
<circle cx="144.18" cy="564.85" r="0.80" fill="#fff" stroke="#000" stroke-width="0.45"/>
<circle cx="151.37" cy="568.22" r="0.80" fill="#fff" stroke="#000" stroke-width="0.45"/>
<circle cx="158.56" cy="564.37" r="0.80" fill="#fff" stroke="#000" stroke-width="0.45"/>
<circle cx="165.75" cy="571.58" r="0.80" fill="#fff" stroke="#000" stroke-width="0.45"/>
<circle cx="172.94" cy="571.58" r="0.80" fill="#fff" stroke="#000" stroke-width="0.45"/>
<circle cx="180.13" cy="572.55" r="0.80" fill="#fff" stroke="#000" stroke-width="0.45"/>
<polyline points="129.80,572.07 136.99,571.10 144.18,572.55 151.37,570.14 158.56,567.26 165.75,573.03 172.94,573.99 180.13,573.03" fill="none" stroke="#555" stroke-width="0.4"/>
<rect x="129.00" y="571.27" width="1.60" height="1.60" fill="#fff" stroke="#000" stroke-width="0.45"/>
<rect x="136.19" y="570.30" width="1.60" height="1.60" fill="#fff" stroke="#000" stroke-width="0.45"/>
<rect x="143.38" y="571.75" width="1.60" height="1.60" fill="#fff" stroke="#000" stroke-width="0.45"/>
<rect x="150.57" y="569.34" width="1.60" height="1.60" fill="#fff" stroke="#000" stroke-width="0.45"/>
<rect x="157.76" y="566.46" width="1.60" height="1.60" fill="#fff" stroke="#000" stroke-width="0.45"/>
<rect x="164.95" y="572.23" width="1.60" height="1.60" fill="#fff" stroke="#000" stroke-width="0.45"/>
<rect x="172.14" y="573.19" width="1.60" height="1.60" fill="#fff" stroke="#000" stroke-width="0.45"/>
<rect x="179.33" y="572.23" width="1.60" height="1.60" fill="#fff" stroke="#000" stroke-width="0.45"/>
<polyline points="129.80,573.99 136.99,574.95 144.18,578.80 151.37,576.39 158.56,573.03 165.75,576.39 172.94,578.80 180.13,578.80" fill="none" stroke="#555" stroke-width="0.4"/>
<polygon points="129.80,573.07 130.68,574.59 128.92,574.59" fill="#fff" stroke="#000" stroke-width="0.45"/>
<polygon points="136.99,574.03 137.87,575.55 136.11,575.55" fill="#fff" stroke="#000" stroke-width="0.45"/>
<polygon points="144.18,577.88 145.06,579.40 143.30,579.40" fill="#fff" stroke="#000" stroke-width="0.45"/>
<polygon points="151.37,575.48 152.25,577.00 150.49,577.00" fill="#fff" stroke="#000" stroke-width="0.45"/>
<polygon points="158.56,572.11 159.44,573.63 157.68,573.63" fill="#fff" stroke="#000" stroke-width="0.45"/>
<polygon points="165.75,575.48 166.63,577.00 164.87,577.00" fill="#fff" stroke="#000" stroke-width="0.45"/>
<polygon points="172.94,577.88 173.82,579.40 172.06,579.40" fill="#fff" stroke="#000" stroke-width="0.45"/>
<polygon points="180.13,577.88 181.01,579.40 179.25,579.40" fill="#fff" stroke="#000" stroke-width="0.45"/>
<polyline points="129.80,578.80 136.99,578.80 144.18,578.80 151.37,578.80 158.56,578.80 165.75,578.80 172.94,578.80 180.13,578.80" fill="none" stroke="#555" stroke-width="0.4"/>
<polygon points="129.80,579.72 130.68,578.20 128.92,578.20" fill="#fff" stroke="#000" stroke-width="0.45"/>
<polygon points="136.99,579.72 137.87,578.20 136.11,578.20" fill="#fff" stroke="#000" stroke-width="0.45"/>
<polygon points="144.18,579.72 145.06,578.20 143.30,578.20" fill="#fff" stroke="#000" stroke-width="0.45"/>
<polygon points="151.37,579.72 152.25,578.20 150.49,578.20" fill="#fff" stroke="#000" stroke-width="0.45"/>
<polygon points="158.56,579.72 159.44,578.20 157.68,578.20" fill="#fff" stroke="#000" stroke-width="0.45"/>
<polygon points="165.75,579.72 166.63,578.20 164.87,578.20" fill="#fff" stroke="#000" stroke-width="0.45"/>
<polygon points="172.94,579.72 173.82,578.20 172.06,578.20" fill="#fff" stroke="#000" stroke-width="0.45"/>
<polygon points="180.13,579.72 181.01,578.20 179.25,578.20" fill="#fff" stroke="#000" stroke-width="0.45"/>
<polyline points="129.80,565.33 136.99,558.60 144.18,558.12 151.37,556.67 158.56,562.93 165.75,571.10 172.94,568.70 180.13,568.70" fill="none" stroke="#555" stroke-width="0.4"/>
<polygon points="129.80,564.37 130.60,565.33 129.80,566.29 129.00,565.33" fill="#fff" stroke="#000" stroke-width="0.45"/>
<polygon points="136.99,557.64 137.79,558.60 136.99,559.56 136.19,558.60" fill="#fff" stroke="#000" stroke-width="0.45"/>
<polygon points="144.18,557.16 144.98,558.12 144.18,559.08 143.38,558.12" fill="#fff" stroke="#000" stroke-width="0.45"/>
<polygon points="151.37,555.71 152.17,556.67 151.37,557.63 150.57,556.67" fill="#fff" stroke="#000" stroke-width="0.45"/>
<polygon points="158.56,561.97 159.36,562.93 158.56,563.89 157.76,562.93" fill="#fff" stroke="#000" stroke-width="0.45"/>
<polygon points="165.75,570.14 166.55,571.10 165.75,572.06 164.95,571.10" fill="#fff" stroke="#000" stroke-width="0.45"/>
<polygon points="172.94,567.74 173.74,568.70 172.94,569.66 172.14,568.70" fill="#fff" stroke="#000" stroke-width="0.45"/>
<polygon points="180.13,567.74 180.93,568.70 180.13,569.66 179.33,568.70" fill="#fff" stroke="#000" stroke-width="0.45"/>
<circle cx="129.80" cy="578.80" r="1.15" fill="#000"/>
<circle cx="136.99" cy="578.80" r="1.15" fill="#000"/>
<circle cx="144.18" cy="578.80" r="1.15" fill="#000"/>
<circle cx="151.37" cy="578.80" r="1.15" fill="#000"/>
<circle cx="158.56" cy="578.80" r="1.15" fill="#000"/>
<circle cx="165.75" cy="578.80" r="1.15" fill="#000"/>
<circle cx="172.94" cy="578.80" r="1.15" fill="#000"/>
<circle cx="180.13" cy="578.80" r="1.15" fill="#000"/>
<line x1="126.2" y1="530.4000000000001" x2="126.2" y2="578.8" stroke="#444" stroke-width="0.6"/>
<line x1="126.2" y1="578.8" x2="183.7" y2="578.8" stroke="#222" stroke-width="0.7"/>
<line x1="124.7" y1="578.80" x2="126.2" y2="578.80" stroke="#444" stroke-width="0.5"/>
<text x="124.10000000000001" y="579.9" font-size="3.2" text-anchor="end" fill="#333">0</text>
<line x1="124.7" y1="569.18" x2="126.2" y2="569.18" stroke="#444" stroke-width="0.5"/>
<text x="124.10000000000001" y="570.28" font-size="3.2" text-anchor="end" fill="#333">2</text>
<line x1="124.7" y1="559.56" x2="126.2" y2="559.56" stroke="#444" stroke-width="0.5"/>
<text x="124.10000000000001" y="560.66" font-size="3.2" text-anchor="end" fill="#333">4</text>
<line x1="124.7" y1="549.94" x2="126.2" y2="549.94" stroke="#444" stroke-width="0.5"/>
<text x="124.10000000000001" y="551.0400000000001" font-size="3.2" text-anchor="end" fill="#333">6</text>
<line x1="124.7" y1="540.32" x2="126.2" y2="540.32" stroke="#444" stroke-width="0.5"/>
<text x="124.10000000000001" y="541.4200000000001" font-size="3.2" text-anchor="end" fill="#333">8</text>
<line x1="124.7" y1="530.70" x2="126.2" y2="530.70" stroke="#444" stroke-width="0.5"/>
<text x="124.10000000000001" y="531.8000000000001" font-size="3.2" text-anchor="end" fill="#333">10</text>
<line x1="129.80" y1="578.8" x2="129.80" y2="580.3" stroke="#333" stroke-width="0.5"/>
<line x1="136.99" y1="578.8" x2="136.99" y2="580.3" stroke="#333" stroke-width="0.5"/>
<line x1="144.18" y1="578.8" x2="144.18" y2="580.3" stroke="#333" stroke-width="0.5"/>
<line x1="151.37" y1="578.8" x2="151.37" y2="580.3" stroke="#333" stroke-width="0.5"/>
<line x1="158.56" y1="578.8" x2="158.56" y2="580.3" stroke="#333" stroke-width="0.5"/>
<line x1="165.75" y1="578.8" x2="165.75" y2="580.3" stroke="#333" stroke-width="0.5"/>
<line x1="172.94" y1="578.8" x2="172.94" y2="580.3" stroke="#333" stroke-width="0.5"/>
<line x1="180.13" y1="578.8" x2="180.13" y2="580.3" stroke="#333" stroke-width="0.5"/>
<text x="0" y="0" font-size="3.5" font-weight="bold" text-anchor="end" fill="#000" transform="translate(131.20,583.80) rotate(-45)">Baseline</text>
<text x="0" y="0" font-size="3.5" font-weight="bold" text-anchor="end" fill="#000" transform="translate(138.39,583.80) rotate(-45)">6 hours</text>
<text x="0" y="0" font-size="3.5" font-weight="bold" text-anchor="end" fill="#000" transform="translate(145.58,583.80) rotate(-45)">24 hours</text>
<text x="0" y="0" font-size="3.5" font-weight="bold" text-anchor="end" fill="#000" transform="translate(152.77,583.80) rotate(-45)">72 hours</text>
<text x="0" y="0" font-size="3.5" font-weight="bold" text-anchor="end" fill="#000" transform="translate(159.96,583.80) rotate(-45)">7 days</text>
<text x="0" y="0" font-size="3.5" font-weight="bold" text-anchor="end" fill="#000" transform="translate(167.15,583.80) rotate(-45)">14 days</text>
<text x="0" y="0" font-size="3.5" font-weight="bold" text-anchor="end" fill="#000" transform="translate(174.34,583.80) rotate(-45)">21 days</text>
<text x="0" y="0" font-size="3.5" font-weight="bold" text-anchor="end" fill="#000" transform="translate(181.53,583.80) rotate(-45)">28 days</text>
<text x="0" y="0" font-size="3.3" font-weight="bold" text-anchor="middle" fill="#111" transform="translate(116.90,554.75) rotate(-90)">pg/ml</text>
<text x="154.0" y="600.0" font-size="3.4" font-weight="bold" text-anchor="middle" textLength="27" lengthAdjust="spacingAndGlyphs">Time after infusion</text>
<line x1="191.3" y1="430.80" x2="194.3" y2="430.80" stroke="#333" stroke-width="0.35"/>
<circle cx="192.80" cy="430.80" r="0.90" fill="#000" stroke="#000" stroke-width="0.5"/>
<text x="197.1" y="432.1" font-size="3.6" fill="#333" textLength="11.6" lengthAdjust="spacingAndGlyphs" stroke="#444" stroke-width="0.3">001-101</text>
<line x1="191.3" y1="437.45" x2="194.3" y2="437.45" stroke="#333" stroke-width="0.35"/>
<rect x="191.90" y="436.55" width="1.80" height="1.80" fill="#000" stroke="#000" stroke-width="0.5"/>
<text x="197.1" y="438.75" font-size="3.6" fill="#333" textLength="11.6" lengthAdjust="spacingAndGlyphs" stroke="#444" stroke-width="0.3">001-102</text>
<line x1="191.3" y1="444.10" x2="194.3" y2="444.10" stroke="#333" stroke-width="0.35"/>
<polygon points="192.80,443.06 193.79,444.78 191.81,444.78" fill="#000" stroke="#000" stroke-width="0.5"/>
<text x="197.1" y="445.40000000000003" font-size="3.6" fill="#333" textLength="11.6" lengthAdjust="spacingAndGlyphs" stroke="#444" stroke-width="0.3">001-103</text>
<line x1="191.3" y1="450.75" x2="194.3" y2="450.75" stroke="#333" stroke-width="0.35"/>
<polygon points="192.80,451.79 193.79,450.07 191.81,450.07" fill="#000" stroke="#000" stroke-width="0.5"/>
<text x="197.1" y="452.05" font-size="3.6" fill="#333" textLength="11.6" lengthAdjust="spacingAndGlyphs" stroke="#444" stroke-width="0.3">001-105</text>
<line x1="191.3" y1="457.40" x2="194.3" y2="457.40" stroke="#333" stroke-width="0.35"/>
<polygon points="192.80,456.32 193.70,457.40 192.80,458.48 191.90,457.40" fill="#000" stroke="#000" stroke-width="0.5"/>
<text x="197.1" y="458.70000000000005" font-size="3.6" fill="#333" textLength="11.6" lengthAdjust="spacingAndGlyphs" stroke="#444" stroke-width="0.3">002-101</text>
<line x1="191.3" y1="464.05" x2="194.3" y2="464.05" stroke="#333" stroke-width="0.35"/>
<circle cx="192.80" cy="464.05" r="0.90" fill="#fff" stroke="#000" stroke-width="0.5"/>
<text x="197.1" y="465.35" font-size="3.6" fill="#333" textLength="11.6" lengthAdjust="spacingAndGlyphs" stroke="#444" stroke-width="0.3">003-101</text>
<line x1="191.3" y1="470.70" x2="194.3" y2="470.70" stroke="#333" stroke-width="0.35"/>
<rect x="191.90" y="469.80" width="1.80" height="1.80" fill="#fff" stroke="#000" stroke-width="0.5"/>
<text x="197.1" y="472.00000000000006" font-size="3.6" fill="#333" textLength="11.6" lengthAdjust="spacingAndGlyphs" stroke="#444" stroke-width="0.3">003-102</text>
<line x1="191.3" y1="477.35" x2="194.3" y2="477.35" stroke="#333" stroke-width="0.35"/>
<polygon points="192.80,476.31 193.79,478.03 191.81,478.03" fill="#fff" stroke="#000" stroke-width="0.5"/>
<text x="197.1" y="478.65000000000003" font-size="3.6" fill="#333" textLength="11.6" lengthAdjust="spacingAndGlyphs" stroke="#444" stroke-width="0.3">001-201</text>
<line x1="191.3" y1="484.00" x2="194.3" y2="484.00" stroke="#333" stroke-width="0.35"/>
<polygon points="192.80,485.04 193.79,483.32 191.81,483.32" fill="#fff" stroke="#000" stroke-width="0.5"/>
<text x="197.1" y="485.3" font-size="3.6" fill="#333" textLength="11.6" lengthAdjust="spacingAndGlyphs" stroke="#444" stroke-width="0.3">003-202</text>
<line x1="191.3" y1="490.65" x2="194.3" y2="490.65" stroke="#333" stroke-width="0.35"/>
<polygon points="192.80,489.57 193.70,490.65 192.80,491.73 191.90,490.65" fill="#fff" stroke="#000" stroke-width="0.5"/>
<text x="197.1" y="491.95000000000005" font-size="3.6" fill="#333" textLength="11.6" lengthAdjust="spacingAndGlyphs" stroke="#444" stroke-width="0.3">009-201</text>
<text x="0" y="0" font-size="15.4" stroke="#000" stroke-width="0.15" transform="translate(235.7,399.0) scale(0.75,1)">E</text>
<text x="238.3" y="438.0" font-size="9.37" font-weight="bold" textLength="245.3" lengthAdjust="spacingAndGlyphs">Persistence of WT1-TCR gene-modified cells: qRT-PCR</text>
<text x="0" y="0" font-size="8.2" font-weight="bold" text-anchor="middle" transform="translate(250.9,500.7) rotate(-90)" textLength="104" lengthAdjust="spacingAndGlyphs">No of td cells/10<tspan font-size="5" dy="-3">6</tspan><tspan dy="3"> total cells</tspan></text>
<polyline points="290.80,534.20 299.61,471.29 308.42,468.30 317.23,462.82 326.04,468.30 334.85,475.27 343.66,475.27 352.47,471.29 361.28,478.42 370.09,484.07 378.90,480.91 387.71,495.52 396.52,498.01 405.33,496.02 414.14,501.33 422.95,506.81" fill="none" stroke="#000" stroke-width="0.6"/>
<circle cx="290.80" cy="534.20" r="1.35" fill="#000" stroke="#000" stroke-width="0.8"/>
<circle cx="299.61" cy="471.29" r="1.35" fill="#000" stroke="#000" stroke-width="0.8"/>
<circle cx="308.42" cy="468.30" r="1.35" fill="#000" stroke="#000" stroke-width="0.8"/>
<circle cx="317.23" cy="462.82" r="1.35" fill="#000" stroke="#000" stroke-width="0.8"/>
<circle cx="326.04" cy="468.30" r="1.35" fill="#000" stroke="#000" stroke-width="0.8"/>
<circle cx="334.85" cy="475.27" r="1.35" fill="#000" stroke="#000" stroke-width="0.8"/>
<circle cx="343.66" cy="475.27" r="1.35" fill="#000" stroke="#000" stroke-width="0.8"/>
<circle cx="352.47" cy="471.29" r="1.35" fill="#000" stroke="#000" stroke-width="0.8"/>
<circle cx="361.28" cy="478.42" r="1.35" fill="#000" stroke="#000" stroke-width="0.8"/>
<circle cx="370.09" cy="484.07" r="1.35" fill="#000" stroke="#000" stroke-width="0.8"/>
<circle cx="378.90" cy="480.91" r="1.35" fill="#000" stroke="#000" stroke-width="0.8"/>
<circle cx="387.71" cy="495.52" r="1.35" fill="#000" stroke="#000" stroke-width="0.8"/>
<circle cx="396.52" cy="498.01" r="1.35" fill="#000" stroke="#000" stroke-width="0.8"/>
<circle cx="405.33" cy="496.02" r="1.35" fill="#000" stroke="#000" stroke-width="0.8"/>
<circle cx="414.14" cy="501.33" r="1.35" fill="#000" stroke="#000" stroke-width="0.8"/>
<circle cx="422.95" cy="506.81" r="1.35" fill="#000" stroke="#000" stroke-width="0.8"/>
<polyline points="290.80,534.20 299.61,472.78 308.42,480.08 317.23,461.33 326.04,462.16 334.85,462.49 343.66,481.41 352.47,481.41 361.28,489.05 370.09,493.20 378.90,492.37 387.71,495.52 396.52,498.01 405.33,496.02 414.14,501.33 422.95,506.81 431.76,506.15" fill="none" stroke="#000" stroke-width="0.6"/>
<rect x="289.45" y="532.85" width="2.70" height="2.70" fill="#000" stroke="#000" stroke-width="0.8"/>
<rect x="298.26" y="471.43" width="2.70" height="2.70" fill="#000" stroke="#000" stroke-width="0.8"/>
<rect x="307.07" y="478.73" width="2.70" height="2.70" fill="#000" stroke="#000" stroke-width="0.8"/>
<rect x="315.88" y="459.98" width="2.70" height="2.70" fill="#000" stroke="#000" stroke-width="0.8"/>
<rect x="324.69" y="460.81" width="2.70" height="2.70" fill="#000" stroke="#000" stroke-width="0.8"/>
<rect x="333.50" y="461.14" width="2.70" height="2.70" fill="#000" stroke="#000" stroke-width="0.8"/>
<rect x="342.31" y="480.06" width="2.70" height="2.70" fill="#000" stroke="#000" stroke-width="0.8"/>
<rect x="351.12" y="480.06" width="2.70" height="2.70" fill="#000" stroke="#000" stroke-width="0.8"/>
<rect x="359.93" y="487.70" width="2.70" height="2.70" fill="#000" stroke="#000" stroke-width="0.8"/>
<rect x="368.74" y="491.85" width="2.70" height="2.70" fill="#000" stroke="#000" stroke-width="0.8"/>
<rect x="377.55" y="491.02" width="2.70" height="2.70" fill="#000" stroke="#000" stroke-width="0.8"/>
<rect x="386.36" y="494.17" width="2.70" height="2.70" fill="#000" stroke="#000" stroke-width="0.8"/>
<rect x="395.17" y="496.66" width="2.70" height="2.70" fill="#000" stroke="#000" stroke-width="0.8"/>
<rect x="403.98" y="494.67" width="2.70" height="2.70" fill="#000" stroke="#000" stroke-width="0.8"/>
<rect x="412.79" y="499.98" width="2.70" height="2.70" fill="#000" stroke="#000" stroke-width="0.8"/>
<rect x="421.60" y="505.46" width="2.70" height="2.70" fill="#000" stroke="#000" stroke-width="0.8"/>
<rect x="430.41" y="504.80" width="2.70" height="2.70" fill="#000" stroke="#000" stroke-width="0.8"/>
<polyline points="290.80,534.20 299.61,478.26 308.42,469.79 317.23,464.48 326.04,477.59 334.85,481.41 343.66,486.06 352.47,486.72 361.28,493.20 370.09,496.35 378.90,494.86 387.71,499.67 396.52,507.81 405.33,508.64 414.14,508.64 422.95,512.79" fill="none" stroke="#000" stroke-width="0.6"/>
<polygon points="290.80,532.65 292.29,535.21 289.31,535.21" fill="#000" stroke="#000" stroke-width="0.8"/>
<polygon points="299.61,476.71 301.10,479.27 298.12,479.27" fill="#000" stroke="#000" stroke-width="0.8"/>
<polygon points="308.42,468.24 309.91,470.80 306.94,470.80" fill="#000" stroke="#000" stroke-width="0.8"/>
<polygon points="317.23,462.93 318.72,465.49 315.75,465.49" fill="#000" stroke="#000" stroke-width="0.8"/>
<polygon points="326.04,476.04 327.53,478.61 324.56,478.61" fill="#000" stroke="#000" stroke-width="0.8"/>
<polygon points="334.85,479.86 336.34,482.42 333.37,482.42" fill="#000" stroke="#000" stroke-width="0.8"/>
<polygon points="343.66,484.51 345.15,487.07 342.18,487.07" fill="#000" stroke="#000" stroke-width="0.8"/>
<polygon points="352.47,485.17 353.96,487.74 350.99,487.74" fill="#000" stroke="#000" stroke-width="0.8"/>
<polygon points="361.28,491.65 362.77,494.21 359.80,494.21" fill="#000" stroke="#000" stroke-width="0.8"/>
<polygon points="370.09,494.80 371.58,497.36 368.61,497.36" fill="#000" stroke="#000" stroke-width="0.8"/>
<polygon points="378.90,493.31 380.39,495.87 377.42,495.87" fill="#000" stroke="#000" stroke-width="0.8"/>
<polygon points="387.71,498.12 389.20,500.68 386.23,500.68" fill="#000" stroke="#000" stroke-width="0.8"/>
<polygon points="396.52,506.25 398.00,508.82 395.03,508.82" fill="#000" stroke="#000" stroke-width="0.8"/>
<polygon points="405.33,507.08 406.82,509.65 403.85,509.65" fill="#000" stroke="#000" stroke-width="0.8"/>
<polygon points="414.14,507.08 415.62,509.65 412.65,509.65" fill="#000" stroke="#000" stroke-width="0.8"/>
<polygon points="422.95,511.23 424.44,513.80 421.47,513.80" fill="#000" stroke="#000" stroke-width="0.8"/>
<polyline points="290.80,534.20 299.61,484.40 308.42,488.05 317.23,469.79 326.04,480.58 334.85,497.68 343.66,481.41 352.47,492.20 361.28,496.35 370.09,496.35 378.90,500.17 387.71,502.16 396.52,507.81 405.33,508.64 414.14,511.13 422.95,511.96" fill="none" stroke="#000" stroke-width="0.6"/>
<polygon points="290.80,535.75 292.29,533.19 289.31,533.19" fill="#000" stroke="#000" stroke-width="0.8"/>
<polygon points="299.61,485.95 301.10,483.39 298.12,483.39" fill="#000" stroke="#000" stroke-width="0.8"/>
<polygon points="308.42,489.60 309.91,487.04 306.94,487.04" fill="#000" stroke="#000" stroke-width="0.8"/>
<polygon points="317.23,471.34 318.72,468.78 315.75,468.78" fill="#000" stroke="#000" stroke-width="0.8"/>
<polygon points="326.04,482.13 327.53,479.57 324.56,479.57" fill="#000" stroke="#000" stroke-width="0.8"/>
<polygon points="334.85,499.23 336.34,496.67 333.37,496.67" fill="#000" stroke="#000" stroke-width="0.8"/>
<polygon points="343.66,482.96 345.15,480.40 342.18,480.40" fill="#000" stroke="#000" stroke-width="0.8"/>
<polygon points="352.47,493.75 353.96,491.19 350.99,491.19" fill="#000" stroke="#000" stroke-width="0.8"/>
<polygon points="361.28,497.90 362.77,495.34 359.80,495.34" fill="#000" stroke="#000" stroke-width="0.8"/>
<polygon points="370.09,497.90 371.58,495.34 368.61,495.34" fill="#000" stroke="#000" stroke-width="0.8"/>
<polygon points="378.90,501.72 380.39,499.16 377.42,499.16" fill="#000" stroke="#000" stroke-width="0.8"/>
<polygon points="387.71,503.71 389.20,501.15 386.23,501.15" fill="#000" stroke="#000" stroke-width="0.8"/>
<polygon points="396.52,509.36 398.00,506.79 395.03,506.79" fill="#000" stroke="#000" stroke-width="0.8"/>
<polygon points="405.33,510.19 406.82,507.62 403.85,507.62" fill="#000" stroke="#000" stroke-width="0.8"/>
<polygon points="414.14,512.68 415.62,510.11 412.65,510.11" fill="#000" stroke="#000" stroke-width="0.8"/>
<polygon points="422.95,513.51 424.44,510.94 421.47,510.94" fill="#000" stroke="#000" stroke-width="0.8"/>
<polyline points="290.80,534.20 299.61,487.72 308.42,488.05 317.23,482.24 326.04,489.88 334.85,497.68 343.66,500.34 352.47,508.47 361.28,518.76 370.09,520.92 378.90,522.58 387.71,524.24 396.52,520.92 405.33,520.92 414.14,515.61 422.95,524.24" fill="none" stroke="#000" stroke-width="0.6"/>
<polygon points="290.80,532.94 291.85,534.20 290.80,535.46 289.75,534.20" fill="#000" stroke="#000" stroke-width="0.8"/>
<polygon points="299.61,486.46 300.66,487.72 299.61,488.98 298.56,487.72" fill="#000" stroke="#000" stroke-width="0.8"/>
<polygon points="308.42,486.79 309.47,488.05 308.42,489.31 307.37,488.05" fill="#000" stroke="#000" stroke-width="0.8"/>
<polygon points="317.23,480.98 318.28,482.24 317.23,483.50 316.18,482.24" fill="#000" stroke="#000" stroke-width="0.8"/>
<polygon points="326.04,488.62 327.09,489.88 326.04,491.14 324.99,489.88" fill="#000" stroke="#000" stroke-width="0.8"/>
<polygon points="334.85,496.42 335.90,497.68 334.85,498.94 333.80,497.68" fill="#000" stroke="#000" stroke-width="0.8"/>
<polygon points="343.66,499.08 344.71,500.34 343.66,501.60 342.61,500.34" fill="#000" stroke="#000" stroke-width="0.8"/>
<polygon points="352.47,507.21 353.52,508.47 352.47,509.73 351.42,508.47" fill="#000" stroke="#000" stroke-width="0.8"/>
<polygon points="361.28,517.50 362.33,518.76 361.28,520.02 360.23,518.76" fill="#000" stroke="#000" stroke-width="0.8"/>
<polygon points="370.09,519.66 371.14,520.92 370.09,522.18 369.04,520.92" fill="#000" stroke="#000" stroke-width="0.8"/>
<polygon points="378.90,521.32 379.95,522.58 378.90,523.84 377.85,522.58" fill="#000" stroke="#000" stroke-width="0.8"/>
<polygon points="387.71,522.98 388.76,524.24 387.71,525.50 386.66,524.24" fill="#000" stroke="#000" stroke-width="0.8"/>
<polygon points="396.52,519.66 397.57,520.92 396.52,522.18 395.47,520.92" fill="#000" stroke="#000" stroke-width="0.8"/>
<polygon points="405.33,519.66 406.38,520.92 405.33,522.18 404.28,520.92" fill="#000" stroke="#000" stroke-width="0.8"/>
<polygon points="414.14,514.35 415.19,515.61 414.14,516.87 413.09,515.61" fill="#000" stroke="#000" stroke-width="0.8"/>
<polygon points="422.95,522.98 424.00,524.24 422.95,525.50 421.90,524.24" fill="#000" stroke="#000" stroke-width="0.8"/>
<polyline points="290.80,534.20 299.61,495.36 308.42,494.03 317.23,487.06 326.04,506.15 334.85,506.81 343.66,500.34 352.47,492.20 361.28,510.79 370.09,507.81 378.90,500.17 387.71,502.16 396.52,507.81 405.33,508.64 414.14,508.64 422.95,512.79 431.76,511.96" fill="none" stroke="#000" stroke-width="0.6"/>
<circle cx="290.80" cy="534.20" r="1.35" fill="#fff" stroke="#000" stroke-width="0.8"/>
<circle cx="299.61" cy="495.36" r="1.35" fill="#fff" stroke="#000" stroke-width="0.8"/>
<circle cx="308.42" cy="494.03" r="1.35" fill="#fff" stroke="#000" stroke-width="0.8"/>
<circle cx="317.23" cy="487.06" r="1.35" fill="#fff" stroke="#000" stroke-width="0.8"/>
<circle cx="326.04" cy="506.15" r="1.35" fill="#fff" stroke="#000" stroke-width="0.8"/>
<circle cx="334.85" cy="506.81" r="1.35" fill="#fff" stroke="#000" stroke-width="0.8"/>
<circle cx="343.66" cy="500.34" r="1.35" fill="#fff" stroke="#000" stroke-width="0.8"/>
<circle cx="352.47" cy="492.20" r="1.35" fill="#fff" stroke="#000" stroke-width="0.8"/>
<circle cx="361.28" cy="510.79" r="1.35" fill="#fff" stroke="#000" stroke-width="0.8"/>
<circle cx="370.09" cy="507.81" r="1.35" fill="#fff" stroke="#000" stroke-width="0.8"/>
<circle cx="378.90" cy="500.17" r="1.35" fill="#fff" stroke="#000" stroke-width="0.8"/>
<circle cx="387.71" cy="502.16" r="1.35" fill="#fff" stroke="#000" stroke-width="0.8"/>
<circle cx="396.52" cy="507.81" r="1.35" fill="#fff" stroke="#000" stroke-width="0.8"/>
<circle cx="405.33" cy="508.64" r="1.35" fill="#fff" stroke="#000" stroke-width="0.8"/>
<circle cx="414.14" cy="508.64" r="1.35" fill="#fff" stroke="#000" stroke-width="0.8"/>
<circle cx="422.95" cy="512.79" r="1.35" fill="#fff" stroke="#000" stroke-width="0.8"/>
<circle cx="431.76" cy="511.96" r="1.35" fill="#fff" stroke="#000" stroke-width="0.8"/>
<polyline points="290.80,534.20 299.61,471.29 308.42,459.83 317.23,461.33 326.04,462.82 334.85,464.15 343.66,460.99 352.47,461.33 361.28,465.97 370.09,470.29 378.90,492.37 387.71,511.13" fill="none" stroke="#000" stroke-width="0.6"/>
<rect x="289.45" y="532.85" width="2.70" height="2.70" fill="#fff" stroke="#000" stroke-width="0.8"/>
<rect x="298.26" y="469.94" width="2.70" height="2.70" fill="#fff" stroke="#000" stroke-width="0.8"/>
<rect x="307.07" y="458.48" width="2.70" height="2.70" fill="#fff" stroke="#000" stroke-width="0.8"/>
<rect x="315.88" y="459.98" width="2.70" height="2.70" fill="#fff" stroke="#000" stroke-width="0.8"/>
<rect x="324.69" y="461.47" width="2.70" height="2.70" fill="#fff" stroke="#000" stroke-width="0.8"/>
<rect x="333.50" y="462.80" width="2.70" height="2.70" fill="#fff" stroke="#000" stroke-width="0.8"/>
<rect x="342.31" y="459.64" width="2.70" height="2.70" fill="#fff" stroke="#000" stroke-width="0.8"/>
<rect x="351.12" y="459.98" width="2.70" height="2.70" fill="#fff" stroke="#000" stroke-width="0.8"/>
<rect x="359.93" y="464.62" width="2.70" height="2.70" fill="#fff" stroke="#000" stroke-width="0.8"/>
<rect x="368.74" y="468.94" width="2.70" height="2.70" fill="#fff" stroke="#000" stroke-width="0.8"/>
<rect x="377.55" y="491.02" width="2.70" height="2.70" fill="#fff" stroke="#000" stroke-width="0.8"/>
<rect x="386.36" y="509.78" width="2.70" height="2.70" fill="#fff" stroke="#000" stroke-width="0.8"/>
<polyline points="290.80,534.20 299.61,478.26 308.42,480.08 317.23,462.82 326.04,477.59 334.85,481.41 343.66,481.41 352.47,481.41 361.28,489.88 370.09,493.20 378.90,504.65 387.71,499.67 396.52,515.94 405.33,515.94 414.14,515.61" fill="none" stroke="#000" stroke-width="0.6"/>
<polygon points="290.80,532.65 292.29,535.21 289.31,535.21" fill="#fff" stroke="#000" stroke-width="0.8"/>
<polygon points="299.61,476.71 301.10,479.27 298.12,479.27" fill="#fff" stroke="#000" stroke-width="0.8"/>
<polygon points="308.42,478.53 309.91,481.10 306.94,481.10" fill="#fff" stroke="#000" stroke-width="0.8"/>
<polygon points="317.23,461.27 318.72,463.83 315.75,463.83" fill="#fff" stroke="#000" stroke-width="0.8"/>
<polygon points="326.04,476.04 327.53,478.61 324.56,478.61" fill="#fff" stroke="#000" stroke-width="0.8"/>
<polygon points="334.85,479.86 336.34,482.42 333.37,482.42" fill="#fff" stroke="#000" stroke-width="0.8"/>
<polygon points="343.66,479.86 345.15,482.42 342.18,482.42" fill="#fff" stroke="#000" stroke-width="0.8"/>
<polygon points="352.47,479.86 353.96,482.42 350.99,482.42" fill="#fff" stroke="#000" stroke-width="0.8"/>
<polygon points="361.28,488.33 362.77,490.89 359.80,490.89" fill="#fff" stroke="#000" stroke-width="0.8"/>
<polygon points="370.09,491.65 371.58,494.21 368.61,494.21" fill="#fff" stroke="#000" stroke-width="0.8"/>
<polygon points="378.90,503.10 380.39,505.66 377.42,505.66" fill="#fff" stroke="#000" stroke-width="0.8"/>
<polygon points="387.71,498.12 389.20,500.68 386.23,500.68" fill="#fff" stroke="#000" stroke-width="0.8"/>
<polygon points="396.52,514.39 398.00,516.95 395.03,516.95" fill="#fff" stroke="#000" stroke-width="0.8"/>
<polygon points="405.33,514.39 406.82,516.95 403.85,516.95" fill="#fff" stroke="#000" stroke-width="0.8"/>
<polygon points="414.14,514.06 415.62,516.62 412.65,516.62" fill="#fff" stroke="#000" stroke-width="0.8"/>
<polyline points="290.80,534.20 299.61,487.72 308.42,468.30 317.23,461.33 326.04,468.30 334.85,488.88 343.66,489.88 352.47,486.72 361.28,493.70 370.09,509.47 378.90,510.30 387.71,502.16 396.52,515.94 405.33,515.94 414.14,511.13" fill="none" stroke="#000" stroke-width="0.6"/>
<polygon points="290.80,535.75 292.29,533.19 289.31,533.19" fill="#fff" stroke="#000" stroke-width="0.8"/>
<polygon points="299.61,489.27 301.10,486.71 298.12,486.71" fill="#fff" stroke="#000" stroke-width="0.8"/>
<polygon points="308.42,469.85 309.91,467.29 306.94,467.29" fill="#fff" stroke="#000" stroke-width="0.8"/>
<polygon points="317.23,462.88 318.72,460.31 315.75,460.31" fill="#fff" stroke="#000" stroke-width="0.8"/>
<polygon points="326.04,469.85 327.53,467.29 324.56,467.29" fill="#fff" stroke="#000" stroke-width="0.8"/>
<polygon points="334.85,490.43 336.34,487.87 333.37,487.87" fill="#fff" stroke="#000" stroke-width="0.8"/>
<polygon points="343.66,491.43 345.15,488.87 342.18,488.87" fill="#fff" stroke="#000" stroke-width="0.8"/>
<polygon points="352.47,488.28 353.96,485.71 350.99,485.71" fill="#fff" stroke="#000" stroke-width="0.8"/>
<polygon points="361.28,495.25 362.77,492.68 359.80,492.68" fill="#fff" stroke="#000" stroke-width="0.8"/>
<polygon points="370.09,511.02 371.58,508.45 368.61,508.45" fill="#fff" stroke="#000" stroke-width="0.8"/>
<polygon points="378.90,511.85 380.39,509.28 377.42,509.28" fill="#fff" stroke="#000" stroke-width="0.8"/>
<polygon points="387.71,503.71 389.20,501.15 386.23,501.15" fill="#fff" stroke="#000" stroke-width="0.8"/>
<polygon points="396.52,517.49 398.00,514.93 395.03,514.93" fill="#fff" stroke="#000" stroke-width="0.8"/>
<polygon points="405.33,517.49 406.82,514.93 403.85,514.93" fill="#fff" stroke="#000" stroke-width="0.8"/>
<polygon points="414.14,512.68 415.62,510.11 412.65,510.11" fill="#fff" stroke="#000" stroke-width="0.8"/>
<polyline points="290.80,534.20 299.61,495.36 308.42,506.15 317.23,469.79 326.04,489.88 334.85,488.88 343.66,486.06 352.47,492.20 361.28,496.02 370.09,509.47 378.90,504.65 387.71,511.13" fill="none" stroke="#000" stroke-width="0.6"/>
<polygon points="290.80,532.58 292.15,534.20 290.80,535.82 289.45,534.20" fill="#fff" stroke="#000" stroke-width="0.8"/>
<polygon points="299.61,493.74 300.96,495.36 299.61,496.98 298.26,495.36" fill="#fff" stroke="#000" stroke-width="0.8"/>
<polygon points="308.42,504.53 309.77,506.15 308.42,507.77 307.07,506.15" fill="#fff" stroke="#000" stroke-width="0.8"/>
<polygon points="317.23,468.17 318.58,469.79 317.23,471.41 315.88,469.79" fill="#fff" stroke="#000" stroke-width="0.8"/>
<polygon points="326.04,488.26 327.39,489.88 326.04,491.50 324.69,489.88" fill="#fff" stroke="#000" stroke-width="0.8"/>
<polygon points="334.85,487.26 336.20,488.88 334.85,490.50 333.50,488.88" fill="#fff" stroke="#000" stroke-width="0.8"/>
<polygon points="343.66,484.44 345.01,486.06 343.66,487.68 342.31,486.06" fill="#fff" stroke="#000" stroke-width="0.8"/>
<polygon points="352.47,490.58 353.82,492.20 352.47,493.82 351.12,492.20" fill="#fff" stroke="#000" stroke-width="0.8"/>
<polygon points="361.28,494.40 362.63,496.02 361.28,497.64 359.93,496.02" fill="#fff" stroke="#000" stroke-width="0.8"/>
<polygon points="370.09,507.85 371.44,509.47 370.09,511.09 368.74,509.47" fill="#fff" stroke="#000" stroke-width="0.8"/>
<polygon points="378.90,503.03 380.25,504.65 378.90,506.27 377.55,504.65" fill="#fff" stroke="#000" stroke-width="0.8"/>
<polygon points="387.71,509.51 389.06,511.13 387.71,512.75 386.36,511.13" fill="#fff" stroke="#000" stroke-width="0.8"/>
<rect x="288.90" y="532.30" width="3.8" height="3.8" fill="#000"/>
<line x1="286.0" y1="450.90000000000003" x2="286.0" y2="550.8000000000001" stroke="#000" stroke-width="1.0"/>
<line x1="286.0" y1="550.8000000000001" x2="435.9" y2="550.8000000000001" stroke="#000" stroke-width="1.0"/>
<line x1="282.5" y1="550.80" x2="286.0" y2="550.80" stroke="#000" stroke-width="0.9"/>
<text x="281.5" y="553.4000000000001" font-size="7.2" font-weight="bold" text-anchor="end">0.1</text>
<line x1="282.5" y1="534.20" x2="286.0" y2="534.20" stroke="#000" stroke-width="0.9"/>
<text x="281.5" y="536.8000000000001" font-size="7.2" font-weight="bold" text-anchor="end">1</text>
<line x1="282.5" y1="517.60" x2="286.0" y2="517.60" stroke="#000" stroke-width="0.9"/>
<text x="281.5" y="520.2" font-size="7.2" font-weight="bold" text-anchor="end">10</text>
<line x1="282.5" y1="501.00" x2="286.0" y2="501.00" stroke="#000" stroke-width="0.9"/>
<text x="281.5" y="503.6000000000001" font-size="7.2" font-weight="bold" text-anchor="end">100</text>
<line x1="282.5" y1="484.40" x2="286.0" y2="484.40" stroke="#000" stroke-width="0.9"/>
<text x="281.5" y="487.0000000000001" font-size="7.2" font-weight="bold" text-anchor="end">1000</text>
<line x1="282.5" y1="467.80" x2="286.0" y2="467.80" stroke="#000" stroke-width="0.9"/>
<text x="281.5" y="470.4000000000001" font-size="7.2" font-weight="bold" text-anchor="end">10000</text>
<line x1="282.5" y1="451.20" x2="286.0" y2="451.20" stroke="#000" stroke-width="0.9"/>
<text x="281.5" y="453.80000000000007" font-size="7.2" font-weight="bold" text-anchor="end">100000</text>
<line x1="290.80" y1="550.8000000000001" x2="290.80" y2="554.1" stroke="#000" stroke-width="0.9"/>
<text x="0" y="0" font-size="7.1" font-weight="bold" text-anchor="end" fill="#000" transform="translate(292.60,559.40) rotate(-45)">0 hr</text>
<line x1="299.61" y1="550.8000000000001" x2="299.61" y2="554.1" stroke="#000" stroke-width="0.9"/>
<text x="0" y="0" font-size="7.1" font-weight="bold" text-anchor="end" fill="#000" transform="translate(301.41,559.40) rotate(-45)">6 hr</text>
<line x1="308.42" y1="550.8000000000001" x2="308.42" y2="554.1" stroke="#000" stroke-width="0.9"/>
<text x="0" y="0" font-size="7.1" font-weight="bold" text-anchor="end" fill="#000" transform="translate(310.22,559.40) rotate(-45)">24 hr</text>
<line x1="317.23" y1="550.8000000000001" x2="317.23" y2="554.1" stroke="#000" stroke-width="0.9"/>
<text x="0" y="0" font-size="7.1" font-weight="bold" text-anchor="end" fill="#000" transform="translate(319.03,559.40) rotate(-45)">Day 3</text>
<line x1="326.04" y1="550.8000000000001" x2="326.04" y2="554.1" stroke="#000" stroke-width="0.9"/>
<text x="0" y="0" font-size="7.1" font-weight="bold" text-anchor="end" fill="#000" transform="translate(327.84,559.40) rotate(-45)">Day 7</text>
<line x1="334.85" y1="550.8000000000001" x2="334.85" y2="554.1" stroke="#000" stroke-width="0.9"/>
<text x="0" y="0" font-size="7.1" font-weight="bold" text-anchor="end" fill="#000" transform="translate(336.65,559.40) rotate(-45)">Day 14</text>
<line x1="343.66" y1="550.8000000000001" x2="343.66" y2="554.1" stroke="#000" stroke-width="0.9"/>
<text x="0" y="0" font-size="7.1" font-weight="bold" text-anchor="end" fill="#000" transform="translate(345.46,559.40) rotate(-45)">Day 21</text>
<line x1="352.47" y1="550.8000000000001" x2="352.47" y2="554.1" stroke="#000" stroke-width="0.9"/>
<text x="0" y="0" font-size="7.1" font-weight="bold" text-anchor="end" fill="#000" transform="translate(354.27,559.40) rotate(-45)">Day 28</text>
<line x1="361.28" y1="550.8000000000001" x2="361.28" y2="554.1" stroke="#000" stroke-width="0.9"/>
<text x="0" y="0" font-size="7.1" font-weight="bold" text-anchor="end" fill="#000" transform="translate(363.08,559.40) rotate(-45)">Week 6</text>
<line x1="370.09" y1="550.8000000000001" x2="370.09" y2="554.1" stroke="#000" stroke-width="0.9"/>
<text x="0" y="0" font-size="7.1" font-weight="bold" text-anchor="end" fill="#000" transform="translate(371.89,559.40) rotate(-45)">Month 2</text>
<line x1="378.90" y1="550.8000000000001" x2="378.90" y2="554.1" stroke="#000" stroke-width="0.9"/>
<text x="0" y="0" font-size="7.1" font-weight="bold" text-anchor="end" fill="#000" transform="translate(380.70,559.40) rotate(-45)">Month 3</text>
<line x1="387.71" y1="550.8000000000001" x2="387.71" y2="554.1" stroke="#000" stroke-width="0.9"/>
<text x="0" y="0" font-size="7.1" font-weight="bold" text-anchor="end" fill="#000" transform="translate(389.51,559.40) rotate(-45)">Month 4</text>
<line x1="396.52" y1="550.8000000000001" x2="396.52" y2="554.1" stroke="#000" stroke-width="0.9"/>
<text x="0" y="0" font-size="7.1" font-weight="bold" text-anchor="end" fill="#000" transform="translate(398.32,559.40) rotate(-45)">Month 5</text>
<line x1="405.33" y1="550.8000000000001" x2="405.33" y2="554.1" stroke="#000" stroke-width="0.9"/>
<text x="0" y="0" font-size="7.1" font-weight="bold" text-anchor="end" fill="#000" transform="translate(407.13,559.40) rotate(-45)">Month 6</text>
<line x1="414.14" y1="550.8000000000001" x2="414.14" y2="554.1" stroke="#000" stroke-width="0.9"/>
<text x="0" y="0" font-size="7.1" font-weight="bold" text-anchor="end" fill="#000" transform="translate(415.94,559.40) rotate(-45)">Month 8</text>
<line x1="422.95" y1="550.8000000000001" x2="422.95" y2="554.1" stroke="#000" stroke-width="0.9"/>
<text x="0" y="0" font-size="7.1" font-weight="bold" text-anchor="end" fill="#000" transform="translate(424.75,559.40) rotate(-45)">Month 10</text>
<line x1="431.76" y1="550.8000000000001" x2="431.76" y2="554.1" stroke="#000" stroke-width="0.9"/>
<text x="0" y="0" font-size="7.1" font-weight="bold" text-anchor="end" fill="#000" transform="translate(433.56,559.40) rotate(-45)">Month 12</text>
<text x="326.2" y="595.0" font-size="7.73" font-weight="bold" textLength="69" lengthAdjust="spacingAndGlyphs">Time after infusion</text>
<line x1="459" y1="457.70" x2="470" y2="457.70" stroke="#000" stroke-width="0.7"/>
<circle cx="464.60" cy="457.70" r="1.25" fill="#000" stroke="#000" stroke-width="1.05"/>
<text x="476.0" y="460.59999999999997" font-size="7.95" textLength="29.2" lengthAdjust="spacingAndGlyphs">001-101</text>
<line x1="459" y1="471.60" x2="470" y2="471.60" stroke="#000" stroke-width="0.7"/>
<rect x="463.35" y="470.35" width="2.50" height="2.50" fill="#000" stroke="#000" stroke-width="1.05"/>
<text x="476.0" y="474.49999999999994" font-size="7.95" textLength="29.2" lengthAdjust="spacingAndGlyphs">001-102</text>
<line x1="459" y1="485.50" x2="470" y2="485.50" stroke="#000" stroke-width="0.7"/>
<polygon points="464.60,484.06 465.98,486.44 463.23,486.44" fill="#000" stroke="#000" stroke-width="1.05"/>
<text x="476.0" y="488.4" font-size="7.95" textLength="29.2" lengthAdjust="spacingAndGlyphs">001-103</text>
<line x1="459" y1="499.40" x2="470" y2="499.40" stroke="#000" stroke-width="0.7"/>
<polygon points="464.60,500.84 465.98,498.46 463.23,498.46" fill="#000" stroke="#000" stroke-width="1.05"/>
<text x="476.0" y="502.29999999999995" font-size="7.95" textLength="29.2" lengthAdjust="spacingAndGlyphs">001-105</text>
<line x1="459" y1="513.30" x2="470" y2="513.30" stroke="#000" stroke-width="0.7"/>
<polygon points="464.60,512.10 465.60,513.30 464.60,514.50 463.60,513.30" fill="#000" stroke="#000" stroke-width="1.05"/>
<text x="476.0" y="516.1999999999999" font-size="7.95" textLength="29.2" lengthAdjust="spacingAndGlyphs">002-101</text>
<line x1="459" y1="527.20" x2="470" y2="527.20" stroke="#000" stroke-width="0.7"/>
<circle cx="464.60" cy="527.20" r="1.55" fill="#fff" stroke="#000" stroke-width="1.05"/>
<text x="476.0" y="530.1" font-size="7.95" textLength="29.2" lengthAdjust="spacingAndGlyphs">003-101</text>
<line x1="459" y1="541.10" x2="470" y2="541.10" stroke="#000" stroke-width="0.7"/>
<rect x="463.05" y="539.55" width="3.10" height="3.10" fill="#fff" stroke="#000" stroke-width="1.05"/>
<text x="476.0" y="544.0" font-size="7.95" textLength="29.2" lengthAdjust="spacingAndGlyphs">003-102</text>
<line x1="459" y1="555.00" x2="470" y2="555.00" stroke="#000" stroke-width="0.7"/>
<polygon points="464.60,553.22 466.31,556.16 462.90,556.16" fill="#fff" stroke="#000" stroke-width="1.05"/>
<text x="476.0" y="557.9" font-size="7.95" textLength="29.2" lengthAdjust="spacingAndGlyphs">001-201</text>
<line x1="459" y1="568.90" x2="470" y2="568.90" stroke="#000" stroke-width="0.7"/>
<polygon points="464.60,570.68 466.31,567.74 462.90,567.74" fill="#fff" stroke="#000" stroke-width="1.05"/>
<text x="476.0" y="571.8" font-size="7.95" textLength="29.2" lengthAdjust="spacingAndGlyphs">003-202</text>
<line x1="459" y1="582.80" x2="470" y2="582.80" stroke="#000" stroke-width="0.7"/>
<polygon points="464.60,580.94 466.15,582.80 464.60,584.66 463.05,582.80" fill="#fff" stroke="#000" stroke-width="1.05"/>
<text x="476.0" y="585.6999999999999" font-size="7.95" textLength="29.2" lengthAdjust="spacingAndGlyphs">009-201</text>
<text x="0" y="0" font-size="15.4" stroke="#000" stroke-width="0.15" transform="translate(15.2,32.5) scale(0.97,1)">A</text>
<line x1="70.8" y1="111.3" x2="458.8" y2="111.3" stroke="#000" stroke-width="1.7"/>
<polygon points="210.4,107 214.8,107 210.6,117.6 206.2,117.6" fill="#000"/>
<line x1="104.3" y1="106.2" x2="104.3" y2="75" stroke="#5E8CC8" stroke-width="1.3"/>
<polygon points="104.3,72.8 102.6,76.2 106,76.2" fill="#5E8CC8"/>
<path d="M104.1,62.7 A37,33 0 0 1 138.5,29.7" fill="none" stroke="#5E8CC8" stroke-width="1.3"/>
<polygon points="141.2,29.6 137.6,27.9 137.6,31.3" fill="#5E8CC8"/>
<path d="M181,29.6 A51.3,27.5 0 0 1 232.2,55" fill="none" stroke="#5E8CC8" stroke-width="1.3"/>
<polygon points="232.3,57.6 230.6,54.2 234,54.2" fill="#5E8CC8"/>
<line x1="232.3" y1="68" x2="232.3" y2="106" stroke="#5E8CC8" stroke-width="1.3"/>
<polygon points="232.3,108.7 230.6,105.3 234,105.3" fill="#5E8CC8"/>
<rect x="143.5" y="94.3" width="53.7" height="14.2" fill="#800C80"/>
<text x="170.3" y="103.5" font-size="5.6" font-weight="bold" text-anchor="middle" fill="#fff" textLength="16.5" lengthAdjust="spacingAndGlyphs">Flu/MP</text>
<text x="104.2" y="69.5" font-size="5.6" font-weight="bold" font-style="italic" text-anchor="middle" textLength="33.5" lengthAdjust="spacingAndGlyphs">Leukapheresis</text>
<text x="160.8" y="25.0" font-size="5.6" font-weight="bold" font-style="italic" text-anchor="middle" textLength="25" lengthAdjust="spacingAndGlyphs">Ex-vivo TCR</text>
<text x="160.8" y="31.3" font-size="5.6" font-weight="bold" font-style="italic" text-anchor="middle" textLength="29" lengthAdjust="spacingAndGlyphs">Transduction</text>
<text x="160.8" y="37.4" font-size="5.6" font-weight="bold" font-style="italic" text-anchor="middle" textLength="22" lengthAdjust="spacingAndGlyphs">(5-7 days)</text>
<text x="222.1" y="64.6" font-size="5.6" font-style="italic" text-anchor="middle" textLength="32.8" lengthAdjust="spacingAndGlyphs" stroke="#000" stroke-width="0.12">Cryopreserved</text>
<text x="176.2" y="81.4" font-size="5.6" font-weight="bold" font-style="italic" text-anchor="middle" textLength="40.5" lengthAdjust="spacingAndGlyphs">Lymphodepleting</text>
<text x="176.2" y="87.3" font-size="5.6" font-weight="bold" font-style="italic" text-anchor="middle" textLength="33.5" lengthAdjust="spacingAndGlyphs">Conditioning*</text>
<text x="75.4" y="120.2" font-size="5.6" font-weight="bold" textLength="11.1" lengthAdjust="spacingAndGlyphs">D-14</text>
<text x="170.8" y="121.5" font-size="5.6" font-weight="bold" text-anchor="middle" textLength="25" lengthAdjust="spacingAndGlyphs">D-7 to D-2</text>
<text x="232.5" y="119.9" font-size="5.6" font-weight="bold" text-anchor="middle" fill="#C03A3A" textLength="6.5" lengthAdjust="spacingAndGlyphs">D0</text>
<text x="235.4" y="137.7" font-size="5.6" font-weight="bold" text-anchor="middle" fill="#C03A3A" textLength="33" lengthAdjust="spacingAndGlyphs">Re-infusion of</text>
<text x="235.4" y="144.0" font-size="5.6" font-weight="bold" text-anchor="middle" fill="#C03A3A" textLength="27" lengthAdjust="spacingAndGlyphs">WT1 TCR-td</text>
<text x="235.4" y="150.0" font-size="5.6" font-weight="bold" text-anchor="middle" fill="#C03A3A" textLength="26" lengthAdjust="spacingAndGlyphs">Bulk T cells</text>
<text x="202.0" y="162.0" font-size="5.6" font-weight="bold" fill="#C03A3A" textLength="67.5" lengthAdjust="spacingAndGlyphs">Cohort 1 (n=6): ≤ 2 x 10<tspan font-size="3.5" dy="-2">7</tspan><tspan dy="2">/kg</tspan></text>
<text x="202.0" y="167.8" font-size="5.6" font-weight="bold" fill="#C03A3A" textLength="67.5" lengthAdjust="spacingAndGlyphs">Cohort 2 (n=4):  ≤ 1 x 10<tspan font-size="3.5" dy="-2">8</tspan><tspan dy="2">/kg</tspan></text>
<text x="245.4" y="91.2" font-size="5.6" font-weight="bold" textLength="34.3" lengthAdjust="spacingAndGlyphs">• Low dose IL2</text>
<text x="251.5" y="97.0" font-size="5.6" font-weight="bold" textLength="27" lengthAdjust="spacingAndGlyphs">(D0 to D+5)</text>
<text x="351.5" y="88.5" font-size="5.6" fill="#F00000" textLength="55.4" lengthAdjust="spacingAndGlyphs">Monitoring &amp; Follow Up</text>
<line x1="320.5" y1="96.2" x2="320.5" y2="106" stroke="#F00010" stroke-width="1.9"/>
<polygon points="317.9,105.2 323.1,105.2 320.5,110" fill="#F00010"/>
<line x1="342.4" y1="96.2" x2="342.4" y2="106" stroke="#F00010" stroke-width="1.9"/>
<polygon points="339.8,105.2 345.0,105.2 342.4,110" fill="#F00010"/>
<line x1="361.8" y1="96.2" x2="361.8" y2="106" stroke="#F00010" stroke-width="1.9"/>
<polygon points="359.2,105.2 364.4,105.2 361.8,110" fill="#F00010"/>
<line x1="381.2" y1="96.2" x2="381.2" y2="106" stroke="#F00010" stroke-width="1.9"/>
<polygon points="378.6,105.2 383.8,105.2 381.2,110" fill="#F00010"/>
<line x1="400.8" y1="96.2" x2="400.8" y2="106" stroke="#F00010" stroke-width="1.9"/>
<polygon points="398.2,105.2 403.4,105.2 400.8,110" fill="#F00010"/>
<line x1="420.2" y1="96.2" x2="420.2" y2="106" stroke="#F00010" stroke-width="1.9"/>
<polygon points="417.6,105.2 422.8,105.2 420.2,110" fill="#F00010"/>
<line x1="439.6" y1="96.2" x2="439.6" y2="106" stroke="#F00010" stroke-width="1.9"/>
<polygon points="437.0,105.2 442.2,105.2 439.6,110" fill="#F00010"/>
<text x="342.4" y="119.6045" font-size="5.4" font-weight="bold" textLength="36.9" lengthAdjust="spacingAndGlyphs"><tspan text-decoration="underline">Immunology Ix:</tspan></text>
<text x="342.4" y="126.47" font-size="5.4" font-weight="bold" textLength="57.2" lengthAdjust="spacingAndGlyphs">Vβ2.1, tetramer staining</text>
<text x="342.4" y="132.44" font-size="5.4" font-weight="bold" textLength="56.5" lengthAdjust="spacingAndGlyphs">Ag-specific proliferation</text>
<text x="342.4" y="138.41" font-size="5.4" font-weight="bold" textLength="59.2" lengthAdjust="spacingAndGlyphs">Intracellular CK secretion</text>
<text x="342.4" y="144.38" font-size="5.4" font-weight="bold" textLength="28.5" lengthAdjust="spacingAndGlyphs">Cytotoxicity</text>
<text x="342.4" y="150.35" font-size="5.4" font-weight="bold" textLength="34.2" lengthAdjust="spacingAndGlyphs">TCR repertoire</text>
<text x="342.4" y="156.32" font-size="5.4" font-weight="bold" textLength="69.1" lengthAdjust="spacingAndGlyphs">PCR for Vβ2.1/TCR fragments</text>
<text x="342.4" y="168.26" font-size="5.4" font-weight="bold" textLength="73.4" lengthAdjust="spacingAndGlyphs">Clinical Assessment for toxicity</text>
<text x="342.4" y="174.23" font-size="5.4" font-weight="bold" textLength="63.6" lengthAdjust="spacingAndGlyphs">T cell subsets &amp; phenotype</text>
</svg>
<div class="cl" style="top:640.71px;width:465.4px"><b>A</b>: Trial schematic: Once successful manufacture of the WT1 TCR-transduced T cells was</div>
<div class="cl" style="top:654.56px;width:465.4px">confirmed, the subject underwent a lymphodepletive conditioning regimen for five days consisting</div>
<div class="cl" style="top:668.41px;width:465.4px">of fludarabine 30 mg/m<sup>2</sup> administered intravenously for 5 days and methylprednisolone 500 mg</div>
<div class="cl" style="top:682.26px;width:465.4px">administered intravenously for 1 day . <b>B</b>: MP71 retroviral vector&nbsp; consisting of codon optimised</div>
<div class="cl" style="top:696.11px;width:465.4px">variable and constant alpha chains of the human pWT126-specific TCR and the codon optimised</div>
<div class="cl" style="top:709.96px;width:465.4px">variable and constant beta chains of the human pWT126-specific TCR separated by a self-cleaving</div>
<div class="cl" style="top:723.81px;width:465.4px">2A sequence and flanked by long terminal repeats. An additional disulphide bond between the</div>
<div class="cl" style="top:737.66px;width:465.4px">constant regions was added to enhance preferential pairing and reduce mispairing with</div>
<div class="cl" style="top:751.51px;width:465.4px">endogenous TCR chains. <b>C</b>: % of transduced cells Ki67+ showing that gene-modified cells</div>
<div class="cl" style="top:765.36px;width:465.4px">proliferated in vivo. <b>D</b>: Cytokine (IL-2, IL-6, IFN-γ, TNF-α) profiles in all subjects in first 28 days</div>
<div class="cl" style="top:779.21px;width:465.4px">following infusion of WT+ TCR transduced T cells. <b>E</b>: qRT-PCR data showing TCR transduced T cells</div>
<div class="cl" style="top:793.06px;width:459.4px">were detectable in all patients at 28 days and in 7 patients persisted throughout the study period.</div>
</body></html>
